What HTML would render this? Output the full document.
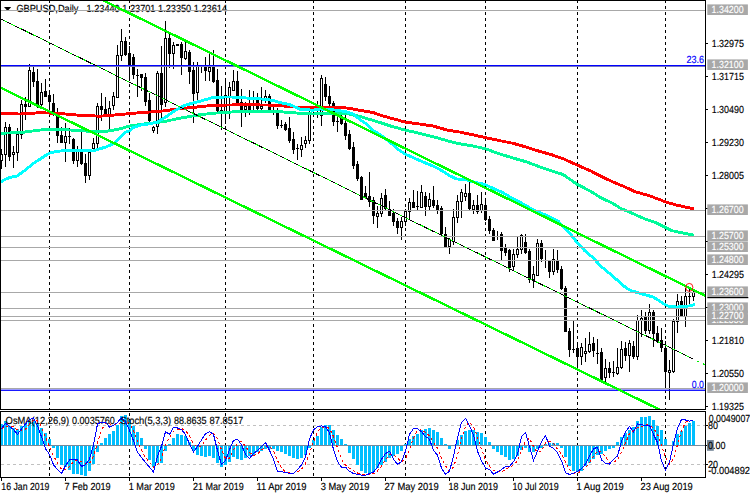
<!DOCTYPE html>
<html lang="en"><head><meta charset="utf-8"><title>GBPUSD Daily</title>
<style>html,body{margin:0;padding:0;background:#fff;overflow:hidden}svg{display:block;font-family:"Liberation Sans",sans-serif}text{white-space:pre;text-rendering:geometricPrecision}</style></head><body>
<svg width="750" height="498" viewBox="0 0 750 498">
<rect x="0" y="0" width="750" height="498" fill="#fff"/>
<defs><clipPath id="cm"><rect x="1" y="1" width="704" height="408"/></clipPath><clipPath id="ci"><rect x="1" y="412" width="704" height="65"/></clipPath></defs>
<g shape-rendering="crispEdges" fill="#000">
<rect x="49" y="0" width="1" height="3" fill="#000"/>
<rect x="49" y="6" width="1" height="3" fill="#000"/>
<rect x="49" y="12" width="1" height="3" fill="#000"/>
<rect x="49" y="18" width="1" height="3" fill="#000"/>
<rect x="49" y="24" width="1" height="3" fill="#000"/>
<rect x="49" y="30" width="1" height="3" fill="#000"/>
<rect x="49" y="36" width="1" height="3" fill="#000"/>
<rect x="49" y="42" width="1" height="3" fill="#000"/>
<rect x="49" y="48" width="1" height="3" fill="#000"/>
<rect x="49" y="54" width="1" height="3" fill="#000"/>
<rect x="49" y="60" width="1" height="3" fill="#000"/>
<rect x="49" y="66" width="1" height="3" fill="#000"/>
<rect x="49" y="72" width="1" height="3" fill="#000"/>
<rect x="49" y="78" width="1" height="3" fill="#000"/>
<rect x="49" y="84" width="1" height="3" fill="#000"/>
<rect x="49" y="90" width="1" height="3" fill="#000"/>
<rect x="49" y="96" width="1" height="3" fill="#000"/>
<rect x="49" y="102" width="1" height="3" fill="#000"/>
<rect x="49" y="108" width="1" height="3" fill="#000"/>
<rect x="49" y="114" width="1" height="3" fill="#000"/>
<rect x="49" y="120" width="1" height="3" fill="#000"/>
<rect x="49" y="126" width="1" height="3" fill="#000"/>
<rect x="49" y="132" width="1" height="3" fill="#000"/>
<rect x="49" y="138" width="1" height="3" fill="#000"/>
<rect x="49" y="144" width="1" height="3" fill="#000"/>
<rect x="49" y="150" width="1" height="3" fill="#000"/>
<rect x="49" y="156" width="1" height="3" fill="#000"/>
<rect x="49" y="162" width="1" height="3" fill="#000"/>
<rect x="49" y="168" width="1" height="3" fill="#000"/>
<rect x="49" y="174" width="1" height="3" fill="#000"/>
<rect x="49" y="180" width="1" height="3" fill="#000"/>
<rect x="49" y="186" width="1" height="3" fill="#000"/>
<rect x="49" y="192" width="1" height="3" fill="#000"/>
<rect x="49" y="198" width="1" height="3" fill="#000"/>
<rect x="49" y="204" width="1" height="3" fill="#000"/>
<rect x="49" y="210" width="1" height="3" fill="#000"/>
<rect x="49" y="216" width="1" height="3" fill="#000"/>
<rect x="49" y="222" width="1" height="3" fill="#000"/>
<rect x="49" y="228" width="1" height="3" fill="#000"/>
<rect x="49" y="234" width="1" height="3" fill="#000"/>
<rect x="49" y="240" width="1" height="3" fill="#000"/>
<rect x="49" y="246" width="1" height="3" fill="#000"/>
<rect x="49" y="252" width="1" height="3" fill="#000"/>
<rect x="49" y="258" width="1" height="3" fill="#000"/>
<rect x="49" y="264" width="1" height="3" fill="#000"/>
<rect x="49" y="270" width="1" height="3" fill="#000"/>
<rect x="49" y="276" width="1" height="3" fill="#000"/>
<rect x="49" y="282" width="1" height="3" fill="#000"/>
<rect x="49" y="288" width="1" height="3" fill="#000"/>
<rect x="49" y="294" width="1" height="3" fill="#000"/>
<rect x="49" y="300" width="1" height="3" fill="#000"/>
<rect x="49" y="306" width="1" height="3" fill="#000"/>
<rect x="49" y="312" width="1" height="3" fill="#000"/>
<rect x="49" y="318" width="1" height="3" fill="#000"/>
<rect x="49" y="324" width="1" height="3" fill="#000"/>
<rect x="49" y="330" width="1" height="3" fill="#000"/>
<rect x="49" y="336" width="1" height="3" fill="#000"/>
<rect x="49" y="342" width="1" height="3" fill="#000"/>
<rect x="49" y="348" width="1" height="3" fill="#000"/>
<rect x="49" y="354" width="1" height="3" fill="#000"/>
<rect x="49" y="360" width="1" height="3" fill="#000"/>
<rect x="49" y="366" width="1" height="3" fill="#000"/>
<rect x="49" y="372" width="1" height="3" fill="#000"/>
<rect x="49" y="378" width="1" height="3" fill="#000"/>
<rect x="49" y="384" width="1" height="3" fill="#000"/>
<rect x="49" y="390" width="1" height="3" fill="#000"/>
<rect x="49" y="396" width="1" height="3" fill="#000"/>
<rect x="49" y="402" width="1" height="3" fill="#000"/>
<rect x="49" y="408" width="1" height="1" fill="#000"/>
<rect x="49" y="413" width="1" height="3" fill="#000"/>
<rect x="49" y="419" width="1" height="3" fill="#000"/>
<rect x="49" y="425" width="1" height="3" fill="#000"/>
<rect x="49" y="431" width="1" height="3" fill="#000"/>
<rect x="49" y="437" width="1" height="3" fill="#000"/>
<rect x="49" y="443" width="1" height="3" fill="#000"/>
<rect x="49" y="449" width="1" height="3" fill="#000"/>
<rect x="49" y="455" width="1" height="3" fill="#000"/>
<rect x="49" y="461" width="1" height="3" fill="#000"/>
<rect x="49" y="467" width="1" height="3" fill="#000"/>
<rect x="49" y="473" width="1" height="3" fill="#000"/>
<rect x="129" y="0" width="1" height="3" fill="#000"/>
<rect x="129" y="6" width="1" height="3" fill="#000"/>
<rect x="129" y="12" width="1" height="3" fill="#000"/>
<rect x="129" y="18" width="1" height="3" fill="#000"/>
<rect x="129" y="24" width="1" height="3" fill="#000"/>
<rect x="129" y="30" width="1" height="3" fill="#000"/>
<rect x="129" y="36" width="1" height="3" fill="#000"/>
<rect x="129" y="42" width="1" height="3" fill="#000"/>
<rect x="129" y="48" width="1" height="3" fill="#000"/>
<rect x="129" y="54" width="1" height="3" fill="#000"/>
<rect x="129" y="60" width="1" height="3" fill="#000"/>
<rect x="129" y="66" width="1" height="3" fill="#000"/>
<rect x="129" y="72" width="1" height="3" fill="#000"/>
<rect x="129" y="78" width="1" height="3" fill="#000"/>
<rect x="129" y="84" width="1" height="3" fill="#000"/>
<rect x="129" y="90" width="1" height="3" fill="#000"/>
<rect x="129" y="96" width="1" height="3" fill="#000"/>
<rect x="129" y="102" width="1" height="3" fill="#000"/>
<rect x="129" y="108" width="1" height="3" fill="#000"/>
<rect x="129" y="114" width="1" height="3" fill="#000"/>
<rect x="129" y="120" width="1" height="3" fill="#000"/>
<rect x="129" y="126" width="1" height="3" fill="#000"/>
<rect x="129" y="132" width="1" height="3" fill="#000"/>
<rect x="129" y="138" width="1" height="3" fill="#000"/>
<rect x="129" y="144" width="1" height="3" fill="#000"/>
<rect x="129" y="150" width="1" height="3" fill="#000"/>
<rect x="129" y="156" width="1" height="3" fill="#000"/>
<rect x="129" y="162" width="1" height="3" fill="#000"/>
<rect x="129" y="168" width="1" height="3" fill="#000"/>
<rect x="129" y="174" width="1" height="3" fill="#000"/>
<rect x="129" y="180" width="1" height="3" fill="#000"/>
<rect x="129" y="186" width="1" height="3" fill="#000"/>
<rect x="129" y="192" width="1" height="3" fill="#000"/>
<rect x="129" y="198" width="1" height="3" fill="#000"/>
<rect x="129" y="204" width="1" height="3" fill="#000"/>
<rect x="129" y="210" width="1" height="3" fill="#000"/>
<rect x="129" y="216" width="1" height="3" fill="#000"/>
<rect x="129" y="222" width="1" height="3" fill="#000"/>
<rect x="129" y="228" width="1" height="3" fill="#000"/>
<rect x="129" y="234" width="1" height="3" fill="#000"/>
<rect x="129" y="240" width="1" height="3" fill="#000"/>
<rect x="129" y="246" width="1" height="3" fill="#000"/>
<rect x="129" y="252" width="1" height="3" fill="#000"/>
<rect x="129" y="258" width="1" height="3" fill="#000"/>
<rect x="129" y="264" width="1" height="3" fill="#000"/>
<rect x="129" y="270" width="1" height="3" fill="#000"/>
<rect x="129" y="276" width="1" height="3" fill="#000"/>
<rect x="129" y="282" width="1" height="3" fill="#000"/>
<rect x="129" y="288" width="1" height="3" fill="#000"/>
<rect x="129" y="294" width="1" height="3" fill="#000"/>
<rect x="129" y="300" width="1" height="3" fill="#000"/>
<rect x="129" y="306" width="1" height="3" fill="#000"/>
<rect x="129" y="312" width="1" height="3" fill="#000"/>
<rect x="129" y="318" width="1" height="3" fill="#000"/>
<rect x="129" y="324" width="1" height="3" fill="#000"/>
<rect x="129" y="330" width="1" height="3" fill="#000"/>
<rect x="129" y="336" width="1" height="3" fill="#000"/>
<rect x="129" y="342" width="1" height="3" fill="#000"/>
<rect x="129" y="348" width="1" height="3" fill="#000"/>
<rect x="129" y="354" width="1" height="3" fill="#000"/>
<rect x="129" y="360" width="1" height="3" fill="#000"/>
<rect x="129" y="366" width="1" height="3" fill="#000"/>
<rect x="129" y="372" width="1" height="3" fill="#000"/>
<rect x="129" y="378" width="1" height="3" fill="#000"/>
<rect x="129" y="384" width="1" height="3" fill="#000"/>
<rect x="129" y="390" width="1" height="3" fill="#000"/>
<rect x="129" y="396" width="1" height="3" fill="#000"/>
<rect x="129" y="402" width="1" height="3" fill="#000"/>
<rect x="129" y="408" width="1" height="1" fill="#000"/>
<rect x="129" y="413" width="1" height="3" fill="#000"/>
<rect x="129" y="419" width="1" height="3" fill="#000"/>
<rect x="129" y="425" width="1" height="3" fill="#000"/>
<rect x="129" y="431" width="1" height="3" fill="#000"/>
<rect x="129" y="437" width="1" height="3" fill="#000"/>
<rect x="129" y="443" width="1" height="3" fill="#000"/>
<rect x="129" y="449" width="1" height="3" fill="#000"/>
<rect x="129" y="455" width="1" height="3" fill="#000"/>
<rect x="129" y="461" width="1" height="3" fill="#000"/>
<rect x="129" y="467" width="1" height="3" fill="#000"/>
<rect x="129" y="473" width="1" height="3" fill="#000"/>
<rect x="225" y="0" width="1" height="3" fill="#000"/>
<rect x="225" y="6" width="1" height="3" fill="#000"/>
<rect x="225" y="12" width="1" height="3" fill="#000"/>
<rect x="225" y="18" width="1" height="3" fill="#000"/>
<rect x="225" y="24" width="1" height="3" fill="#000"/>
<rect x="225" y="30" width="1" height="3" fill="#000"/>
<rect x="225" y="36" width="1" height="3" fill="#000"/>
<rect x="225" y="42" width="1" height="3" fill="#000"/>
<rect x="225" y="48" width="1" height="3" fill="#000"/>
<rect x="225" y="54" width="1" height="3" fill="#000"/>
<rect x="225" y="60" width="1" height="3" fill="#000"/>
<rect x="225" y="66" width="1" height="3" fill="#000"/>
<rect x="225" y="72" width="1" height="3" fill="#000"/>
<rect x="225" y="78" width="1" height="3" fill="#000"/>
<rect x="225" y="84" width="1" height="3" fill="#000"/>
<rect x="225" y="90" width="1" height="3" fill="#000"/>
<rect x="225" y="96" width="1" height="3" fill="#000"/>
<rect x="225" y="102" width="1" height="3" fill="#000"/>
<rect x="225" y="108" width="1" height="3" fill="#000"/>
<rect x="225" y="114" width="1" height="3" fill="#000"/>
<rect x="225" y="120" width="1" height="3" fill="#000"/>
<rect x="225" y="126" width="1" height="3" fill="#000"/>
<rect x="225" y="132" width="1" height="3" fill="#000"/>
<rect x="225" y="138" width="1" height="3" fill="#000"/>
<rect x="225" y="144" width="1" height="3" fill="#000"/>
<rect x="225" y="150" width="1" height="3" fill="#000"/>
<rect x="225" y="156" width="1" height="3" fill="#000"/>
<rect x="225" y="162" width="1" height="3" fill="#000"/>
<rect x="225" y="168" width="1" height="3" fill="#000"/>
<rect x="225" y="174" width="1" height="3" fill="#000"/>
<rect x="225" y="180" width="1" height="3" fill="#000"/>
<rect x="225" y="186" width="1" height="3" fill="#000"/>
<rect x="225" y="192" width="1" height="3" fill="#000"/>
<rect x="225" y="198" width="1" height="3" fill="#000"/>
<rect x="225" y="204" width="1" height="3" fill="#000"/>
<rect x="225" y="210" width="1" height="3" fill="#000"/>
<rect x="225" y="216" width="1" height="3" fill="#000"/>
<rect x="225" y="222" width="1" height="3" fill="#000"/>
<rect x="225" y="228" width="1" height="3" fill="#000"/>
<rect x="225" y="234" width="1" height="3" fill="#000"/>
<rect x="225" y="240" width="1" height="3" fill="#000"/>
<rect x="225" y="246" width="1" height="3" fill="#000"/>
<rect x="225" y="252" width="1" height="3" fill="#000"/>
<rect x="225" y="258" width="1" height="3" fill="#000"/>
<rect x="225" y="264" width="1" height="3" fill="#000"/>
<rect x="225" y="270" width="1" height="3" fill="#000"/>
<rect x="225" y="276" width="1" height="3" fill="#000"/>
<rect x="225" y="282" width="1" height="3" fill="#000"/>
<rect x="225" y="288" width="1" height="3" fill="#000"/>
<rect x="225" y="294" width="1" height="3" fill="#000"/>
<rect x="225" y="300" width="1" height="3" fill="#000"/>
<rect x="225" y="306" width="1" height="3" fill="#000"/>
<rect x="225" y="312" width="1" height="3" fill="#000"/>
<rect x="225" y="318" width="1" height="3" fill="#000"/>
<rect x="225" y="324" width="1" height="3" fill="#000"/>
<rect x="225" y="330" width="1" height="3" fill="#000"/>
<rect x="225" y="336" width="1" height="3" fill="#000"/>
<rect x="225" y="342" width="1" height="3" fill="#000"/>
<rect x="225" y="348" width="1" height="3" fill="#000"/>
<rect x="225" y="354" width="1" height="3" fill="#000"/>
<rect x="225" y="360" width="1" height="3" fill="#000"/>
<rect x="225" y="366" width="1" height="3" fill="#000"/>
<rect x="225" y="372" width="1" height="3" fill="#000"/>
<rect x="225" y="378" width="1" height="3" fill="#000"/>
<rect x="225" y="384" width="1" height="3" fill="#000"/>
<rect x="225" y="390" width="1" height="3" fill="#000"/>
<rect x="225" y="396" width="1" height="3" fill="#000"/>
<rect x="225" y="402" width="1" height="3" fill="#000"/>
<rect x="225" y="408" width="1" height="1" fill="#000"/>
<rect x="225" y="413" width="1" height="3" fill="#000"/>
<rect x="225" y="419" width="1" height="3" fill="#000"/>
<rect x="225" y="425" width="1" height="3" fill="#000"/>
<rect x="225" y="431" width="1" height="3" fill="#000"/>
<rect x="225" y="437" width="1" height="3" fill="#000"/>
<rect x="225" y="443" width="1" height="3" fill="#000"/>
<rect x="225" y="449" width="1" height="3" fill="#000"/>
<rect x="225" y="455" width="1" height="3" fill="#000"/>
<rect x="225" y="461" width="1" height="3" fill="#000"/>
<rect x="225" y="467" width="1" height="3" fill="#000"/>
<rect x="225" y="473" width="1" height="3" fill="#000"/>
<rect x="313" y="0" width="1" height="3" fill="#000"/>
<rect x="313" y="6" width="1" height="3" fill="#000"/>
<rect x="313" y="12" width="1" height="3" fill="#000"/>
<rect x="313" y="18" width="1" height="3" fill="#000"/>
<rect x="313" y="24" width="1" height="3" fill="#000"/>
<rect x="313" y="30" width="1" height="3" fill="#000"/>
<rect x="313" y="36" width="1" height="3" fill="#000"/>
<rect x="313" y="42" width="1" height="3" fill="#000"/>
<rect x="313" y="48" width="1" height="3" fill="#000"/>
<rect x="313" y="54" width="1" height="3" fill="#000"/>
<rect x="313" y="60" width="1" height="3" fill="#000"/>
<rect x="313" y="66" width="1" height="3" fill="#000"/>
<rect x="313" y="72" width="1" height="3" fill="#000"/>
<rect x="313" y="78" width="1" height="3" fill="#000"/>
<rect x="313" y="84" width="1" height="3" fill="#000"/>
<rect x="313" y="90" width="1" height="3" fill="#000"/>
<rect x="313" y="96" width="1" height="3" fill="#000"/>
<rect x="313" y="102" width="1" height="3" fill="#000"/>
<rect x="313" y="108" width="1" height="3" fill="#000"/>
<rect x="313" y="114" width="1" height="3" fill="#000"/>
<rect x="313" y="120" width="1" height="3" fill="#000"/>
<rect x="313" y="126" width="1" height="3" fill="#000"/>
<rect x="313" y="132" width="1" height="3" fill="#000"/>
<rect x="313" y="138" width="1" height="3" fill="#000"/>
<rect x="313" y="144" width="1" height="3" fill="#000"/>
<rect x="313" y="150" width="1" height="3" fill="#000"/>
<rect x="313" y="156" width="1" height="3" fill="#000"/>
<rect x="313" y="162" width="1" height="3" fill="#000"/>
<rect x="313" y="168" width="1" height="3" fill="#000"/>
<rect x="313" y="174" width="1" height="3" fill="#000"/>
<rect x="313" y="180" width="1" height="3" fill="#000"/>
<rect x="313" y="186" width="1" height="3" fill="#000"/>
<rect x="313" y="192" width="1" height="3" fill="#000"/>
<rect x="313" y="198" width="1" height="3" fill="#000"/>
<rect x="313" y="204" width="1" height="3" fill="#000"/>
<rect x="313" y="210" width="1" height="3" fill="#000"/>
<rect x="313" y="216" width="1" height="3" fill="#000"/>
<rect x="313" y="222" width="1" height="3" fill="#000"/>
<rect x="313" y="228" width="1" height="3" fill="#000"/>
<rect x="313" y="234" width="1" height="3" fill="#000"/>
<rect x="313" y="240" width="1" height="3" fill="#000"/>
<rect x="313" y="246" width="1" height="3" fill="#000"/>
<rect x="313" y="252" width="1" height="3" fill="#000"/>
<rect x="313" y="258" width="1" height="3" fill="#000"/>
<rect x="313" y="264" width="1" height="3" fill="#000"/>
<rect x="313" y="270" width="1" height="3" fill="#000"/>
<rect x="313" y="276" width="1" height="3" fill="#000"/>
<rect x="313" y="282" width="1" height="3" fill="#000"/>
<rect x="313" y="288" width="1" height="3" fill="#000"/>
<rect x="313" y="294" width="1" height="3" fill="#000"/>
<rect x="313" y="300" width="1" height="3" fill="#000"/>
<rect x="313" y="306" width="1" height="3" fill="#000"/>
<rect x="313" y="312" width="1" height="3" fill="#000"/>
<rect x="313" y="318" width="1" height="3" fill="#000"/>
<rect x="313" y="324" width="1" height="3" fill="#000"/>
<rect x="313" y="330" width="1" height="3" fill="#000"/>
<rect x="313" y="336" width="1" height="3" fill="#000"/>
<rect x="313" y="342" width="1" height="3" fill="#000"/>
<rect x="313" y="348" width="1" height="3" fill="#000"/>
<rect x="313" y="354" width="1" height="3" fill="#000"/>
<rect x="313" y="360" width="1" height="3" fill="#000"/>
<rect x="313" y="366" width="1" height="3" fill="#000"/>
<rect x="313" y="372" width="1" height="3" fill="#000"/>
<rect x="313" y="378" width="1" height="3" fill="#000"/>
<rect x="313" y="384" width="1" height="3" fill="#000"/>
<rect x="313" y="390" width="1" height="3" fill="#000"/>
<rect x="313" y="396" width="1" height="3" fill="#000"/>
<rect x="313" y="402" width="1" height="3" fill="#000"/>
<rect x="313" y="408" width="1" height="1" fill="#000"/>
<rect x="313" y="413" width="1" height="3" fill="#000"/>
<rect x="313" y="419" width="1" height="3" fill="#000"/>
<rect x="313" y="425" width="1" height="3" fill="#000"/>
<rect x="313" y="431" width="1" height="3" fill="#000"/>
<rect x="313" y="437" width="1" height="3" fill="#000"/>
<rect x="313" y="443" width="1" height="3" fill="#000"/>
<rect x="313" y="449" width="1" height="3" fill="#000"/>
<rect x="313" y="455" width="1" height="3" fill="#000"/>
<rect x="313" y="461" width="1" height="3" fill="#000"/>
<rect x="313" y="467" width="1" height="3" fill="#000"/>
<rect x="313" y="473" width="1" height="3" fill="#000"/>
<rect x="405" y="0" width="1" height="3" fill="#000"/>
<rect x="405" y="6" width="1" height="3" fill="#000"/>
<rect x="405" y="12" width="1" height="3" fill="#000"/>
<rect x="405" y="18" width="1" height="3" fill="#000"/>
<rect x="405" y="24" width="1" height="3" fill="#000"/>
<rect x="405" y="30" width="1" height="3" fill="#000"/>
<rect x="405" y="36" width="1" height="3" fill="#000"/>
<rect x="405" y="42" width="1" height="3" fill="#000"/>
<rect x="405" y="48" width="1" height="3" fill="#000"/>
<rect x="405" y="54" width="1" height="3" fill="#000"/>
<rect x="405" y="60" width="1" height="3" fill="#000"/>
<rect x="405" y="66" width="1" height="3" fill="#000"/>
<rect x="405" y="72" width="1" height="3" fill="#000"/>
<rect x="405" y="78" width="1" height="3" fill="#000"/>
<rect x="405" y="84" width="1" height="3" fill="#000"/>
<rect x="405" y="90" width="1" height="3" fill="#000"/>
<rect x="405" y="96" width="1" height="3" fill="#000"/>
<rect x="405" y="102" width="1" height="3" fill="#000"/>
<rect x="405" y="108" width="1" height="3" fill="#000"/>
<rect x="405" y="114" width="1" height="3" fill="#000"/>
<rect x="405" y="120" width="1" height="3" fill="#000"/>
<rect x="405" y="126" width="1" height="3" fill="#000"/>
<rect x="405" y="132" width="1" height="3" fill="#000"/>
<rect x="405" y="138" width="1" height="3" fill="#000"/>
<rect x="405" y="144" width="1" height="3" fill="#000"/>
<rect x="405" y="150" width="1" height="3" fill="#000"/>
<rect x="405" y="156" width="1" height="3" fill="#000"/>
<rect x="405" y="162" width="1" height="3" fill="#000"/>
<rect x="405" y="168" width="1" height="3" fill="#000"/>
<rect x="405" y="174" width="1" height="3" fill="#000"/>
<rect x="405" y="180" width="1" height="3" fill="#000"/>
<rect x="405" y="186" width="1" height="3" fill="#000"/>
<rect x="405" y="192" width="1" height="3" fill="#000"/>
<rect x="405" y="198" width="1" height="3" fill="#000"/>
<rect x="405" y="204" width="1" height="3" fill="#000"/>
<rect x="405" y="210" width="1" height="3" fill="#000"/>
<rect x="405" y="216" width="1" height="3" fill="#000"/>
<rect x="405" y="222" width="1" height="3" fill="#000"/>
<rect x="405" y="228" width="1" height="3" fill="#000"/>
<rect x="405" y="234" width="1" height="3" fill="#000"/>
<rect x="405" y="240" width="1" height="3" fill="#000"/>
<rect x="405" y="246" width="1" height="3" fill="#000"/>
<rect x="405" y="252" width="1" height="3" fill="#000"/>
<rect x="405" y="258" width="1" height="3" fill="#000"/>
<rect x="405" y="264" width="1" height="3" fill="#000"/>
<rect x="405" y="270" width="1" height="3" fill="#000"/>
<rect x="405" y="276" width="1" height="3" fill="#000"/>
<rect x="405" y="282" width="1" height="3" fill="#000"/>
<rect x="405" y="288" width="1" height="3" fill="#000"/>
<rect x="405" y="294" width="1" height="3" fill="#000"/>
<rect x="405" y="300" width="1" height="3" fill="#000"/>
<rect x="405" y="306" width="1" height="3" fill="#000"/>
<rect x="405" y="312" width="1" height="3" fill="#000"/>
<rect x="405" y="318" width="1" height="3" fill="#000"/>
<rect x="405" y="324" width="1" height="3" fill="#000"/>
<rect x="405" y="330" width="1" height="3" fill="#000"/>
<rect x="405" y="336" width="1" height="3" fill="#000"/>
<rect x="405" y="342" width="1" height="3" fill="#000"/>
<rect x="405" y="348" width="1" height="3" fill="#000"/>
<rect x="405" y="354" width="1" height="3" fill="#000"/>
<rect x="405" y="360" width="1" height="3" fill="#000"/>
<rect x="405" y="366" width="1" height="3" fill="#000"/>
<rect x="405" y="372" width="1" height="3" fill="#000"/>
<rect x="405" y="378" width="1" height="3" fill="#000"/>
<rect x="405" y="384" width="1" height="3" fill="#000"/>
<rect x="405" y="390" width="1" height="3" fill="#000"/>
<rect x="405" y="396" width="1" height="3" fill="#000"/>
<rect x="405" y="402" width="1" height="3" fill="#000"/>
<rect x="405" y="408" width="1" height="1" fill="#000"/>
<rect x="405" y="413" width="1" height="3" fill="#000"/>
<rect x="405" y="419" width="1" height="3" fill="#000"/>
<rect x="405" y="425" width="1" height="3" fill="#000"/>
<rect x="405" y="431" width="1" height="3" fill="#000"/>
<rect x="405" y="437" width="1" height="3" fill="#000"/>
<rect x="405" y="443" width="1" height="3" fill="#000"/>
<rect x="405" y="449" width="1" height="3" fill="#000"/>
<rect x="405" y="455" width="1" height="3" fill="#000"/>
<rect x="405" y="461" width="1" height="3" fill="#000"/>
<rect x="405" y="467" width="1" height="3" fill="#000"/>
<rect x="405" y="473" width="1" height="3" fill="#000"/>
<rect x="485" y="0" width="1" height="3" fill="#000"/>
<rect x="485" y="6" width="1" height="3" fill="#000"/>
<rect x="485" y="12" width="1" height="3" fill="#000"/>
<rect x="485" y="18" width="1" height="3" fill="#000"/>
<rect x="485" y="24" width="1" height="3" fill="#000"/>
<rect x="485" y="30" width="1" height="3" fill="#000"/>
<rect x="485" y="36" width="1" height="3" fill="#000"/>
<rect x="485" y="42" width="1" height="3" fill="#000"/>
<rect x="485" y="48" width="1" height="3" fill="#000"/>
<rect x="485" y="54" width="1" height="3" fill="#000"/>
<rect x="485" y="60" width="1" height="3" fill="#000"/>
<rect x="485" y="66" width="1" height="3" fill="#000"/>
<rect x="485" y="72" width="1" height="3" fill="#000"/>
<rect x="485" y="78" width="1" height="3" fill="#000"/>
<rect x="485" y="84" width="1" height="3" fill="#000"/>
<rect x="485" y="90" width="1" height="3" fill="#000"/>
<rect x="485" y="96" width="1" height="3" fill="#000"/>
<rect x="485" y="102" width="1" height="3" fill="#000"/>
<rect x="485" y="108" width="1" height="3" fill="#000"/>
<rect x="485" y="114" width="1" height="3" fill="#000"/>
<rect x="485" y="120" width="1" height="3" fill="#000"/>
<rect x="485" y="126" width="1" height="3" fill="#000"/>
<rect x="485" y="132" width="1" height="3" fill="#000"/>
<rect x="485" y="138" width="1" height="3" fill="#000"/>
<rect x="485" y="144" width="1" height="3" fill="#000"/>
<rect x="485" y="150" width="1" height="3" fill="#000"/>
<rect x="485" y="156" width="1" height="3" fill="#000"/>
<rect x="485" y="162" width="1" height="3" fill="#000"/>
<rect x="485" y="168" width="1" height="3" fill="#000"/>
<rect x="485" y="174" width="1" height="3" fill="#000"/>
<rect x="485" y="180" width="1" height="3" fill="#000"/>
<rect x="485" y="186" width="1" height="3" fill="#000"/>
<rect x="485" y="192" width="1" height="3" fill="#000"/>
<rect x="485" y="198" width="1" height="3" fill="#000"/>
<rect x="485" y="204" width="1" height="3" fill="#000"/>
<rect x="485" y="210" width="1" height="3" fill="#000"/>
<rect x="485" y="216" width="1" height="3" fill="#000"/>
<rect x="485" y="222" width="1" height="3" fill="#000"/>
<rect x="485" y="228" width="1" height="3" fill="#000"/>
<rect x="485" y="234" width="1" height="3" fill="#000"/>
<rect x="485" y="240" width="1" height="3" fill="#000"/>
<rect x="485" y="246" width="1" height="3" fill="#000"/>
<rect x="485" y="252" width="1" height="3" fill="#000"/>
<rect x="485" y="258" width="1" height="3" fill="#000"/>
<rect x="485" y="264" width="1" height="3" fill="#000"/>
<rect x="485" y="270" width="1" height="3" fill="#000"/>
<rect x="485" y="276" width="1" height="3" fill="#000"/>
<rect x="485" y="282" width="1" height="3" fill="#000"/>
<rect x="485" y="288" width="1" height="3" fill="#000"/>
<rect x="485" y="294" width="1" height="3" fill="#000"/>
<rect x="485" y="300" width="1" height="3" fill="#000"/>
<rect x="485" y="306" width="1" height="3" fill="#000"/>
<rect x="485" y="312" width="1" height="3" fill="#000"/>
<rect x="485" y="318" width="1" height="3" fill="#000"/>
<rect x="485" y="324" width="1" height="3" fill="#000"/>
<rect x="485" y="330" width="1" height="3" fill="#000"/>
<rect x="485" y="336" width="1" height="3" fill="#000"/>
<rect x="485" y="342" width="1" height="3" fill="#000"/>
<rect x="485" y="348" width="1" height="3" fill="#000"/>
<rect x="485" y="354" width="1" height="3" fill="#000"/>
<rect x="485" y="360" width="1" height="3" fill="#000"/>
<rect x="485" y="366" width="1" height="3" fill="#000"/>
<rect x="485" y="372" width="1" height="3" fill="#000"/>
<rect x="485" y="378" width="1" height="3" fill="#000"/>
<rect x="485" y="384" width="1" height="3" fill="#000"/>
<rect x="485" y="390" width="1" height="3" fill="#000"/>
<rect x="485" y="396" width="1" height="3" fill="#000"/>
<rect x="485" y="402" width="1" height="3" fill="#000"/>
<rect x="485" y="408" width="1" height="1" fill="#000"/>
<rect x="485" y="413" width="1" height="3" fill="#000"/>
<rect x="485" y="419" width="1" height="3" fill="#000"/>
<rect x="485" y="425" width="1" height="3" fill="#000"/>
<rect x="485" y="431" width="1" height="3" fill="#000"/>
<rect x="485" y="437" width="1" height="3" fill="#000"/>
<rect x="485" y="443" width="1" height="3" fill="#000"/>
<rect x="485" y="449" width="1" height="3" fill="#000"/>
<rect x="485" y="455" width="1" height="3" fill="#000"/>
<rect x="485" y="461" width="1" height="3" fill="#000"/>
<rect x="485" y="467" width="1" height="3" fill="#000"/>
<rect x="485" y="473" width="1" height="3" fill="#000"/>
<rect x="577" y="0" width="1" height="3" fill="#000"/>
<rect x="577" y="6" width="1" height="3" fill="#000"/>
<rect x="577" y="12" width="1" height="3" fill="#000"/>
<rect x="577" y="18" width="1" height="3" fill="#000"/>
<rect x="577" y="24" width="1" height="3" fill="#000"/>
<rect x="577" y="30" width="1" height="3" fill="#000"/>
<rect x="577" y="36" width="1" height="3" fill="#000"/>
<rect x="577" y="42" width="1" height="3" fill="#000"/>
<rect x="577" y="48" width="1" height="3" fill="#000"/>
<rect x="577" y="54" width="1" height="3" fill="#000"/>
<rect x="577" y="60" width="1" height="3" fill="#000"/>
<rect x="577" y="66" width="1" height="3" fill="#000"/>
<rect x="577" y="72" width="1" height="3" fill="#000"/>
<rect x="577" y="78" width="1" height="3" fill="#000"/>
<rect x="577" y="84" width="1" height="3" fill="#000"/>
<rect x="577" y="90" width="1" height="3" fill="#000"/>
<rect x="577" y="96" width="1" height="3" fill="#000"/>
<rect x="577" y="102" width="1" height="3" fill="#000"/>
<rect x="577" y="108" width="1" height="3" fill="#000"/>
<rect x="577" y="114" width="1" height="3" fill="#000"/>
<rect x="577" y="120" width="1" height="3" fill="#000"/>
<rect x="577" y="126" width="1" height="3" fill="#000"/>
<rect x="577" y="132" width="1" height="3" fill="#000"/>
<rect x="577" y="138" width="1" height="3" fill="#000"/>
<rect x="577" y="144" width="1" height="3" fill="#000"/>
<rect x="577" y="150" width="1" height="3" fill="#000"/>
<rect x="577" y="156" width="1" height="3" fill="#000"/>
<rect x="577" y="162" width="1" height="3" fill="#000"/>
<rect x="577" y="168" width="1" height="3" fill="#000"/>
<rect x="577" y="174" width="1" height="3" fill="#000"/>
<rect x="577" y="180" width="1" height="3" fill="#000"/>
<rect x="577" y="186" width="1" height="3" fill="#000"/>
<rect x="577" y="192" width="1" height="3" fill="#000"/>
<rect x="577" y="198" width="1" height="3" fill="#000"/>
<rect x="577" y="204" width="1" height="3" fill="#000"/>
<rect x="577" y="210" width="1" height="3" fill="#000"/>
<rect x="577" y="216" width="1" height="3" fill="#000"/>
<rect x="577" y="222" width="1" height="3" fill="#000"/>
<rect x="577" y="228" width="1" height="3" fill="#000"/>
<rect x="577" y="234" width="1" height="3" fill="#000"/>
<rect x="577" y="240" width="1" height="3" fill="#000"/>
<rect x="577" y="246" width="1" height="3" fill="#000"/>
<rect x="577" y="252" width="1" height="3" fill="#000"/>
<rect x="577" y="258" width="1" height="3" fill="#000"/>
<rect x="577" y="264" width="1" height="3" fill="#000"/>
<rect x="577" y="270" width="1" height="3" fill="#000"/>
<rect x="577" y="276" width="1" height="3" fill="#000"/>
<rect x="577" y="282" width="1" height="3" fill="#000"/>
<rect x="577" y="288" width="1" height="3" fill="#000"/>
<rect x="577" y="294" width="1" height="3" fill="#000"/>
<rect x="577" y="300" width="1" height="3" fill="#000"/>
<rect x="577" y="306" width="1" height="3" fill="#000"/>
<rect x="577" y="312" width="1" height="3" fill="#000"/>
<rect x="577" y="318" width="1" height="3" fill="#000"/>
<rect x="577" y="324" width="1" height="3" fill="#000"/>
<rect x="577" y="330" width="1" height="3" fill="#000"/>
<rect x="577" y="336" width="1" height="3" fill="#000"/>
<rect x="577" y="342" width="1" height="3" fill="#000"/>
<rect x="577" y="348" width="1" height="3" fill="#000"/>
<rect x="577" y="354" width="1" height="3" fill="#000"/>
<rect x="577" y="360" width="1" height="3" fill="#000"/>
<rect x="577" y="366" width="1" height="3" fill="#000"/>
<rect x="577" y="372" width="1" height="3" fill="#000"/>
<rect x="577" y="378" width="1" height="3" fill="#000"/>
<rect x="577" y="384" width="1" height="3" fill="#000"/>
<rect x="577" y="390" width="1" height="3" fill="#000"/>
<rect x="577" y="396" width="1" height="3" fill="#000"/>
<rect x="577" y="402" width="1" height="3" fill="#000"/>
<rect x="577" y="408" width="1" height="1" fill="#000"/>
<rect x="577" y="413" width="1" height="3" fill="#000"/>
<rect x="577" y="419" width="1" height="3" fill="#000"/>
<rect x="577" y="425" width="1" height="3" fill="#000"/>
<rect x="577" y="431" width="1" height="3" fill="#000"/>
<rect x="577" y="437" width="1" height="3" fill="#000"/>
<rect x="577" y="443" width="1" height="3" fill="#000"/>
<rect x="577" y="449" width="1" height="3" fill="#000"/>
<rect x="577" y="455" width="1" height="3" fill="#000"/>
<rect x="577" y="461" width="1" height="3" fill="#000"/>
<rect x="577" y="467" width="1" height="3" fill="#000"/>
<rect x="577" y="473" width="1" height="3" fill="#000"/>
<rect x="665" y="0" width="1" height="3" fill="#000"/>
<rect x="665" y="6" width="1" height="3" fill="#000"/>
<rect x="665" y="12" width="1" height="3" fill="#000"/>
<rect x="665" y="18" width="1" height="3" fill="#000"/>
<rect x="665" y="24" width="1" height="3" fill="#000"/>
<rect x="665" y="30" width="1" height="3" fill="#000"/>
<rect x="665" y="36" width="1" height="3" fill="#000"/>
<rect x="665" y="42" width="1" height="3" fill="#000"/>
<rect x="665" y="48" width="1" height="3" fill="#000"/>
<rect x="665" y="54" width="1" height="3" fill="#000"/>
<rect x="665" y="60" width="1" height="3" fill="#000"/>
<rect x="665" y="66" width="1" height="3" fill="#000"/>
<rect x="665" y="72" width="1" height="3" fill="#000"/>
<rect x="665" y="78" width="1" height="3" fill="#000"/>
<rect x="665" y="84" width="1" height="3" fill="#000"/>
<rect x="665" y="90" width="1" height="3" fill="#000"/>
<rect x="665" y="96" width="1" height="3" fill="#000"/>
<rect x="665" y="102" width="1" height="3" fill="#000"/>
<rect x="665" y="108" width="1" height="3" fill="#000"/>
<rect x="665" y="114" width="1" height="3" fill="#000"/>
<rect x="665" y="120" width="1" height="3" fill="#000"/>
<rect x="665" y="126" width="1" height="3" fill="#000"/>
<rect x="665" y="132" width="1" height="3" fill="#000"/>
<rect x="665" y="138" width="1" height="3" fill="#000"/>
<rect x="665" y="144" width="1" height="3" fill="#000"/>
<rect x="665" y="150" width="1" height="3" fill="#000"/>
<rect x="665" y="156" width="1" height="3" fill="#000"/>
<rect x="665" y="162" width="1" height="3" fill="#000"/>
<rect x="665" y="168" width="1" height="3" fill="#000"/>
<rect x="665" y="174" width="1" height="3" fill="#000"/>
<rect x="665" y="180" width="1" height="3" fill="#000"/>
<rect x="665" y="186" width="1" height="3" fill="#000"/>
<rect x="665" y="192" width="1" height="3" fill="#000"/>
<rect x="665" y="198" width="1" height="3" fill="#000"/>
<rect x="665" y="204" width="1" height="3" fill="#000"/>
<rect x="665" y="210" width="1" height="3" fill="#000"/>
<rect x="665" y="216" width="1" height="3" fill="#000"/>
<rect x="665" y="222" width="1" height="3" fill="#000"/>
<rect x="665" y="228" width="1" height="3" fill="#000"/>
<rect x="665" y="234" width="1" height="3" fill="#000"/>
<rect x="665" y="240" width="1" height="3" fill="#000"/>
<rect x="665" y="246" width="1" height="3" fill="#000"/>
<rect x="665" y="252" width="1" height="3" fill="#000"/>
<rect x="665" y="258" width="1" height="3" fill="#000"/>
<rect x="665" y="264" width="1" height="3" fill="#000"/>
<rect x="665" y="270" width="1" height="3" fill="#000"/>
<rect x="665" y="276" width="1" height="3" fill="#000"/>
<rect x="665" y="282" width="1" height="3" fill="#000"/>
<rect x="665" y="288" width="1" height="3" fill="#000"/>
<rect x="665" y="294" width="1" height="3" fill="#000"/>
<rect x="665" y="300" width="1" height="3" fill="#000"/>
<rect x="665" y="306" width="1" height="3" fill="#000"/>
<rect x="665" y="312" width="1" height="3" fill="#000"/>
<rect x="665" y="318" width="1" height="3" fill="#000"/>
<rect x="665" y="324" width="1" height="3" fill="#000"/>
<rect x="665" y="330" width="1" height="3" fill="#000"/>
<rect x="665" y="336" width="1" height="3" fill="#000"/>
<rect x="665" y="342" width="1" height="3" fill="#000"/>
<rect x="665" y="348" width="1" height="3" fill="#000"/>
<rect x="665" y="354" width="1" height="3" fill="#000"/>
<rect x="665" y="360" width="1" height="3" fill="#000"/>
<rect x="665" y="366" width="1" height="3" fill="#000"/>
<rect x="665" y="372" width="1" height="3" fill="#000"/>
<rect x="665" y="378" width="1" height="3" fill="#000"/>
<rect x="665" y="384" width="1" height="3" fill="#000"/>
<rect x="665" y="390" width="1" height="3" fill="#000"/>
<rect x="665" y="396" width="1" height="3" fill="#000"/>
<rect x="665" y="402" width="1" height="3" fill="#000"/>
<rect x="665" y="408" width="1" height="1" fill="#000"/>
<rect x="665" y="413" width="1" height="3" fill="#000"/>
<rect x="665" y="419" width="1" height="3" fill="#000"/>
<rect x="665" y="425" width="1" height="3" fill="#000"/>
<rect x="665" y="431" width="1" height="3" fill="#000"/>
<rect x="665" y="437" width="1" height="3" fill="#000"/>
<rect x="665" y="443" width="1" height="3" fill="#000"/>
<rect x="665" y="449" width="1" height="3" fill="#000"/>
<rect x="665" y="455" width="1" height="3" fill="#000"/>
<rect x="665" y="461" width="1" height="3" fill="#000"/>
<rect x="665" y="467" width="1" height="3" fill="#000"/>
<rect x="665" y="473" width="1" height="3" fill="#000"/>
</g>
<g shape-rendering="crispEdges" clip-path="url(#cm)">
<rect x="1" y="149" width="1" height="20" fill="#000"/>
<rect x="0" y="154" width="3" height="7" fill="#000"/>
<rect x="1" y="155" width="1" height="5" fill="#fff"/>
<rect x="5" y="122" width="1" height="45" fill="#000"/>
<rect x="4" y="127" width="3" height="28" fill="#000"/>
<rect x="5" y="128" width="1" height="26" fill="#fff"/>
<rect x="9" y="124" width="1" height="37" fill="#000"/>
<rect x="8" y="127" width="3" height="30" fill="#000"/>
<rect x="13" y="146" width="1" height="22" fill="#000"/>
<rect x="12" y="152" width="3" height="3" fill="#000"/>
<rect x="13" y="153" width="1" height="1" fill="#fff"/>
<rect x="17" y="128" width="1" height="33" fill="#000"/>
<rect x="16" y="134" width="3" height="19" fill="#000"/>
<rect x="17" y="135" width="1" height="17" fill="#fff"/>
<rect x="21" y="100" width="1" height="39" fill="#000"/>
<rect x="20" y="104" width="3" height="31" fill="#000"/>
<rect x="21" y="105" width="1" height="29" fill="#fff"/>
<rect x="25" y="97" width="1" height="23" fill="#000"/>
<rect x="24" y="104" width="3" height="3" fill="#000"/>
<rect x="29" y="64" width="1" height="43" fill="#000"/>
<rect x="28" y="70" width="3" height="37" fill="#000"/>
<rect x="29" y="71" width="1" height="35" fill="#fff"/>
<rect x="33" y="67" width="1" height="20" fill="#000"/>
<rect x="32" y="72" width="3" height="10" fill="#000"/>
<rect x="37" y="69" width="1" height="39" fill="#000"/>
<rect x="36" y="81" width="3" height="24" fill="#000"/>
<rect x="41" y="83" width="1" height="23" fill="#000"/>
<rect x="40" y="92" width="3" height="13" fill="#000"/>
<rect x="41" y="93" width="1" height="11" fill="#fff"/>
<rect x="45" y="79" width="1" height="18" fill="#000"/>
<rect x="44" y="91" width="3" height="6" fill="#000"/>
<rect x="49" y="90" width="1" height="23" fill="#000"/>
<rect x="48" y="95" width="3" height="7" fill="#000"/>
<rect x="53" y="94" width="1" height="22" fill="#000"/>
<rect x="52" y="103" width="3" height="9" fill="#000"/>
<rect x="57" y="108" width="1" height="35" fill="#000"/>
<rect x="56" y="115" width="3" height="21" fill="#000"/>
<rect x="61" y="127" width="1" height="16" fill="#000"/>
<rect x="60" y="135" width="3" height="8" fill="#000"/>
<rect x="65" y="123" width="1" height="39" fill="#000"/>
<rect x="64" y="136" width="3" height="7" fill="#000"/>
<rect x="65" y="137" width="1" height="5" fill="#fff"/>
<rect x="69" y="128" width="1" height="16" fill="#000"/>
<rect x="68" y="136" width="3" height="1" fill="#000"/>
<rect x="73" y="138" width="1" height="26" fill="#000"/>
<rect x="72" y="139" width="3" height="22" fill="#000"/>
<rect x="77" y="146" width="1" height="21" fill="#000"/>
<rect x="76" y="150" width="3" height="11" fill="#000"/>
<rect x="77" y="151" width="1" height="9" fill="#fff"/>
<rect x="81" y="132" width="1" height="33" fill="#000"/>
<rect x="80" y="152" width="3" height="12" fill="#000"/>
<rect x="85" y="154" width="1" height="29" fill="#000"/>
<rect x="84" y="163" width="3" height="13" fill="#000"/>
<rect x="89" y="149" width="1" height="31" fill="#000"/>
<rect x="88" y="152" width="3" height="24" fill="#000"/>
<rect x="89" y="153" width="1" height="22" fill="#fff"/>
<rect x="93" y="138" width="1" height="13" fill="#000"/>
<rect x="92" y="143" width="3" height="6" fill="#000"/>
<rect x="93" y="144" width="1" height="4" fill="#fff"/>
<rect x="97" y="103" width="1" height="45" fill="#000"/>
<rect x="96" y="106" width="3" height="38" fill="#000"/>
<rect x="97" y="107" width="1" height="36" fill="#fff"/>
<rect x="101" y="93" width="1" height="28" fill="#000"/>
<rect x="100" y="106" width="3" height="4" fill="#000"/>
<rect x="105" y="97" width="1" height="19" fill="#000"/>
<rect x="104" y="109" width="3" height="6" fill="#000"/>
<rect x="109" y="101" width="1" height="30" fill="#000"/>
<rect x="108" y="108" width="3" height="7" fill="#000"/>
<rect x="109" y="109" width="1" height="5" fill="#fff"/>
<rect x="113" y="92" width="1" height="18" fill="#000"/>
<rect x="112" y="96" width="3" height="10" fill="#000"/>
<rect x="113" y="97" width="1" height="8" fill="#fff"/>
<rect x="117" y="45" width="1" height="53" fill="#000"/>
<rect x="116" y="55" width="3" height="43" fill="#000"/>
<rect x="117" y="56" width="1" height="41" fill="#fff"/>
<rect x="121" y="29" width="1" height="32" fill="#000"/>
<rect x="120" y="41" width="3" height="15" fill="#000"/>
<rect x="121" y="42" width="1" height="13" fill="#fff"/>
<rect x="125" y="37" width="1" height="19" fill="#000"/>
<rect x="124" y="41" width="3" height="14" fill="#000"/>
<rect x="129" y="46" width="1" height="33" fill="#000"/>
<rect x="128" y="53" width="3" height="13" fill="#000"/>
<rect x="133" y="54" width="1" height="25" fill="#000"/>
<rect x="132" y="57" width="3" height="18" fill="#000"/>
<rect x="137" y="69" width="1" height="28" fill="#000"/>
<rect x="136" y="75" width="3" height="1" fill="#000"/>
<rect x="141" y="74" width="1" height="17" fill="#000"/>
<rect x="140" y="74" width="3" height="4" fill="#000"/>
<rect x="145" y="73" width="1" height="33" fill="#000"/>
<rect x="144" y="77" width="3" height="25" fill="#000"/>
<rect x="149" y="93" width="1" height="30" fill="#000"/>
<rect x="148" y="100" width="3" height="21" fill="#000"/>
<rect x="153" y="126" width="1" height="7" fill="#000"/>
<rect x="152" y="127" width="3" height="4" fill="#000"/>
<rect x="153" y="128" width="1" height="2" fill="#fff"/>
<rect x="157" y="71" width="1" height="63" fill="#000"/>
<rect x="156" y="73" width="3" height="54" fill="#000"/>
<rect x="157" y="74" width="1" height="52" fill="#fff"/>
<rect x="161" y="46" width="1" height="75" fill="#000"/>
<rect x="160" y="73" width="3" height="32" fill="#000"/>
<rect x="165" y="21" width="1" height="86" fill="#000"/>
<rect x="164" y="38" width="3" height="65" fill="#000"/>
<rect x="165" y="39" width="1" height="63" fill="#fff"/>
<rect x="169" y="33" width="1" height="35" fill="#000"/>
<rect x="168" y="38" width="3" height="16" fill="#000"/>
<rect x="173" y="42" width="1" height="27" fill="#000"/>
<rect x="172" y="45" width="3" height="9" fill="#000"/>
<rect x="173" y="46" width="1" height="7" fill="#fff"/>
<rect x="177" y="44" width="1" height="2" fill="#000"/>
<rect x="176" y="44" width="3" height="2" fill="#000"/>
<rect x="181" y="42" width="1" height="33" fill="#000"/>
<rect x="180" y="44" width="3" height="14" fill="#000"/>
<rect x="185" y="42" width="1" height="18" fill="#000"/>
<rect x="184" y="51" width="3" height="8" fill="#000"/>
<rect x="185" y="52" width="1" height="6" fill="#fff"/>
<rect x="189" y="50" width="1" height="34" fill="#000"/>
<rect x="188" y="52" width="3" height="20" fill="#000"/>
<rect x="193" y="62" width="1" height="61" fill="#000"/>
<rect x="192" y="70" width="3" height="24" fill="#000"/>
<rect x="197" y="62" width="1" height="39" fill="#000"/>
<rect x="196" y="66" width="3" height="27" fill="#000"/>
<rect x="197" y="67" width="1" height="25" fill="#fff"/>
<rect x="201" y="66" width="1" height="7" fill="#000"/>
<rect x="205" y="57" width="1" height="24" fill="#000"/>
<rect x="204" y="66" width="3" height="5" fill="#000"/>
<rect x="209" y="54" width="1" height="27" fill="#000"/>
<rect x="208" y="67" width="3" height="5" fill="#000"/>
<rect x="209" y="68" width="1" height="3" fill="#fff"/>
<rect x="213" y="50" width="1" height="33" fill="#000"/>
<rect x="212" y="66" width="3" height="16" fill="#000"/>
<rect x="217" y="69" width="1" height="44" fill="#000"/>
<rect x="216" y="80" width="3" height="31" fill="#000"/>
<rect x="221" y="86" width="1" height="44" fill="#000"/>
<rect x="220" y="110" width="3" height="3" fill="#000"/>
<rect x="225" y="78" width="1" height="46" fill="#000"/>
<rect x="224" y="95" width="3" height="18" fill="#000"/>
<rect x="225" y="96" width="1" height="16" fill="#fff"/>
<rect x="229" y="82" width="1" height="37" fill="#000"/>
<rect x="228" y="87" width="3" height="10" fill="#000"/>
<rect x="229" y="88" width="1" height="8" fill="#fff"/>
<rect x="233" y="70" width="1" height="21" fill="#000"/>
<rect x="232" y="81" width="3" height="10" fill="#000"/>
<rect x="233" y="82" width="1" height="8" fill="#fff"/>
<rect x="237" y="71" width="1" height="33" fill="#000"/>
<rect x="236" y="81" width="3" height="22" fill="#000"/>
<rect x="241" y="89" width="1" height="38" fill="#000"/>
<rect x="240" y="102" width="3" height="9" fill="#000"/>
<rect x="245" y="102" width="1" height="15" fill="#000"/>
<rect x="244" y="106" width="3" height="4" fill="#000"/>
<rect x="245" y="107" width="1" height="2" fill="#fff"/>
<rect x="249" y="90" width="1" height="25" fill="#000"/>
<rect x="248" y="106" width="3" height="5" fill="#000"/>
<rect x="253" y="91" width="1" height="20" fill="#000"/>
<rect x="257" y="93" width="1" height="18" fill="#000"/>
<rect x="256" y="99" width="3" height="10" fill="#000"/>
<rect x="261" y="87" width="1" height="23" fill="#000"/>
<rect x="260" y="106" width="3" height="3" fill="#000"/>
<rect x="261" y="107" width="1" height="1" fill="#fff"/>
<rect x="265" y="90" width="1" height="13" fill="#000"/>
<rect x="264" y="96" width="3" height="3" fill="#000"/>
<rect x="265" y="97" width="1" height="1" fill="#fff"/>
<rect x="269" y="94" width="1" height="17" fill="#000"/>
<rect x="268" y="96" width="3" height="15" fill="#000"/>
<rect x="273" y="106" width="1" height="9" fill="#000"/>
<rect x="277" y="108" width="1" height="21" fill="#000"/>
<rect x="276" y="113" width="3" height="13" fill="#000"/>
<rect x="281" y="120" width="1" height="8" fill="#000"/>
<rect x="280" y="125" width="3" height="1" fill="#000"/>
<rect x="285" y="122" width="1" height="9" fill="#000"/>
<rect x="284" y="124" width="3" height="6" fill="#000"/>
<rect x="289" y="117" width="1" height="26" fill="#000"/>
<rect x="288" y="128" width="3" height="13" fill="#000"/>
<rect x="293" y="132" width="1" height="22" fill="#000"/>
<rect x="292" y="139" width="3" height="11" fill="#000"/>
<rect x="297" y="144" width="1" height="16" fill="#000"/>
<rect x="296" y="148" width="3" height="1" fill="#000"/>
<rect x="301" y="137" width="1" height="20" fill="#000"/>
<rect x="300" y="145" width="3" height="5" fill="#000"/>
<rect x="301" y="146" width="1" height="3" fill="#fff"/>
<rect x="305" y="136" width="1" height="12" fill="#000"/>
<rect x="304" y="140" width="3" height="4" fill="#000"/>
<rect x="305" y="141" width="1" height="2" fill="#fff"/>
<rect x="309" y="111" width="1" height="33" fill="#000"/>
<rect x="308" y="112" width="3" height="29" fill="#000"/>
<rect x="309" y="113" width="1" height="27" fill="#fff"/>
<rect x="313" y="112" width="1" height="3" fill="#000"/>
<rect x="312" y="113" width="3" height="1" fill="#000"/>
<rect x="317" y="101" width="1" height="17" fill="#000"/>
<rect x="321" y="75" width="1" height="51" fill="#000"/>
<rect x="320" y="78" width="3" height="38" fill="#000"/>
<rect x="321" y="79" width="1" height="36" fill="#fff"/>
<rect x="325" y="77" width="1" height="24" fill="#000"/>
<rect x="324" y="84" width="3" height="13" fill="#000"/>
<rect x="329" y="86" width="1" height="20" fill="#000"/>
<rect x="328" y="96" width="3" height="8" fill="#000"/>
<rect x="333" y="101" width="1" height="25" fill="#000"/>
<rect x="332" y="103" width="3" height="19" fill="#000"/>
<rect x="337" y="115" width="1" height="17" fill="#000"/>
<rect x="336" y="121" width="3" height="1" fill="#000"/>
<rect x="341" y="114" width="1" height="11" fill="#000"/>
<rect x="340" y="117" width="3" height="7" fill="#000"/>
<rect x="345" y="114" width="1" height="26" fill="#000"/>
<rect x="344" y="123" width="3" height="13" fill="#000"/>
<rect x="349" y="130" width="1" height="20" fill="#000"/>
<rect x="348" y="134" width="3" height="15" fill="#000"/>
<rect x="353" y="142" width="1" height="27" fill="#000"/>
<rect x="352" y="147" width="3" height="19" fill="#000"/>
<rect x="357" y="161" width="1" height="20" fill="#000"/>
<rect x="356" y="164" width="3" height="15" fill="#000"/>
<rect x="361" y="176" width="1" height="24" fill="#000"/>
<rect x="360" y="177" width="3" height="23" fill="#000"/>
<rect x="365" y="186" width="1" height="13" fill="#000"/>
<rect x="364" y="193" width="3" height="5" fill="#000"/>
<rect x="369" y="172" width="1" height="35" fill="#000"/>
<rect x="368" y="196" width="3" height="6" fill="#000"/>
<rect x="373" y="197" width="1" height="27" fill="#000"/>
<rect x="372" y="200" width="3" height="16" fill="#000"/>
<rect x="377" y="206" width="1" height="22" fill="#000"/>
<rect x="376" y="213" width="3" height="4" fill="#000"/>
<rect x="377" y="214" width="1" height="2" fill="#fff"/>
<rect x="381" y="193" width="1" height="24" fill="#000"/>
<rect x="380" y="198" width="3" height="16" fill="#000"/>
<rect x="381" y="199" width="1" height="14" fill="#fff"/>
<rect x="385" y="189" width="1" height="21" fill="#000"/>
<rect x="384" y="195" width="3" height="14" fill="#000"/>
<rect x="389" y="201" width="1" height="15" fill="#000"/>
<rect x="388" y="209" width="3" height="7" fill="#000"/>
<rect x="393" y="209" width="1" height="17" fill="#000"/>
<rect x="392" y="213" width="3" height="9" fill="#000"/>
<rect x="397" y="218" width="1" height="16" fill="#000"/>
<rect x="396" y="221" width="3" height="7" fill="#000"/>
<rect x="401" y="217" width="1" height="23" fill="#000"/>
<rect x="400" y="221" width="3" height="7" fill="#000"/>
<rect x="401" y="222" width="1" height="5" fill="#fff"/>
<rect x="405" y="209" width="1" height="17" fill="#000"/>
<rect x="404" y="211" width="3" height="11" fill="#000"/>
<rect x="405" y="212" width="1" height="9" fill="#fff"/>
<rect x="409" y="198" width="1" height="21" fill="#000"/>
<rect x="408" y="202" width="3" height="10" fill="#000"/>
<rect x="409" y="203" width="1" height="8" fill="#fff"/>
<rect x="413" y="190" width="1" height="18" fill="#000"/>
<rect x="412" y="202" width="3" height="6" fill="#000"/>
<rect x="417" y="191" width="1" height="19" fill="#000"/>
<rect x="416" y="206" width="3" height="1" fill="#000"/>
<rect x="421" y="185" width="1" height="23" fill="#000"/>
<rect x="420" y="192" width="3" height="16" fill="#000"/>
<rect x="421" y="193" width="1" height="14" fill="#fff"/>
<rect x="425" y="192" width="1" height="24" fill="#000"/>
<rect x="424" y="196" width="3" height="11" fill="#000"/>
<rect x="429" y="193" width="1" height="17" fill="#000"/>
<rect x="428" y="199" width="3" height="8" fill="#000"/>
<rect x="429" y="200" width="1" height="6" fill="#fff"/>
<rect x="433" y="186" width="1" height="22" fill="#000"/>
<rect x="432" y="200" width="3" height="6" fill="#000"/>
<rect x="437" y="200" width="1" height="14" fill="#000"/>
<rect x="436" y="205" width="3" height="5" fill="#000"/>
<rect x="441" y="206" width="1" height="29" fill="#000"/>
<rect x="440" y="208" width="3" height="26" fill="#000"/>
<rect x="445" y="227" width="1" height="21" fill="#000"/>
<rect x="444" y="234" width="3" height="14" fill="#000"/>
<rect x="449" y="238" width="1" height="16" fill="#000"/>
<rect x="448" y="239" width="3" height="8" fill="#000"/>
<rect x="449" y="240" width="1" height="6" fill="#fff"/>
<rect x="453" y="209" width="1" height="36" fill="#000"/>
<rect x="452" y="217" width="3" height="25" fill="#000"/>
<rect x="453" y="218" width="1" height="23" fill="#fff"/>
<rect x="457" y="195" width="1" height="28" fill="#000"/>
<rect x="456" y="201" width="3" height="17" fill="#000"/>
<rect x="457" y="202" width="1" height="15" fill="#fff"/>
<rect x="461" y="189" width="1" height="29" fill="#000"/>
<rect x="460" y="192" width="3" height="10" fill="#000"/>
<rect x="461" y="193" width="1" height="8" fill="#fff"/>
<rect x="465" y="184" width="1" height="17" fill="#000"/>
<rect x="464" y="193" width="3" height="4" fill="#000"/>
<rect x="465" y="194" width="1" height="2" fill="#fff"/>
<rect x="469" y="181" width="1" height="30" fill="#000"/>
<rect x="468" y="193" width="3" height="16" fill="#000"/>
<rect x="473" y="200" width="1" height="14" fill="#000"/>
<rect x="472" y="205" width="3" height="5" fill="#000"/>
<rect x="473" y="206" width="1" height="3" fill="#fff"/>
<rect x="477" y="195" width="1" height="19" fill="#000"/>
<rect x="476" y="205" width="3" height="7" fill="#000"/>
<rect x="481" y="192" width="1" height="21" fill="#000"/>
<rect x="480" y="204" width="3" height="7" fill="#000"/>
<rect x="481" y="205" width="1" height="5" fill="#fff"/>
<rect x="485" y="198" width="1" height="23" fill="#000"/>
<rect x="484" y="205" width="3" height="15" fill="#000"/>
<rect x="489" y="216" width="1" height="18" fill="#000"/>
<rect x="488" y="219" width="3" height="12" fill="#000"/>
<rect x="493" y="228" width="1" height="13" fill="#000"/>
<rect x="492" y="230" width="3" height="11" fill="#000"/>
<rect x="497" y="231" width="1" height="9" fill="#000"/>
<rect x="496" y="236" width="3" height="1" fill="#000"/>
<rect x="501" y="232" width="1" height="28" fill="#000"/>
<rect x="500" y="234" width="3" height="17" fill="#000"/>
<rect x="505" y="244" width="1" height="12" fill="#000"/>
<rect x="504" y="247" width="3" height="6" fill="#000"/>
<rect x="509" y="249" width="1" height="23" fill="#000"/>
<rect x="508" y="250" width="3" height="18" fill="#000"/>
<rect x="513" y="249" width="1" height="21" fill="#000"/>
<rect x="512" y="254" width="3" height="13" fill="#000"/>
<rect x="513" y="255" width="1" height="11" fill="#fff"/>
<rect x="517" y="237" width="1" height="21" fill="#000"/>
<rect x="516" y="249" width="3" height="6" fill="#000"/>
<rect x="517" y="250" width="1" height="4" fill="#fff"/>
<rect x="521" y="234" width="1" height="20" fill="#000"/>
<rect x="520" y="235" width="3" height="15" fill="#000"/>
<rect x="521" y="236" width="1" height="13" fill="#fff"/>
<rect x="525" y="234" width="1" height="20" fill="#000"/>
<rect x="524" y="242" width="3" height="11" fill="#000"/>
<rect x="529" y="249" width="1" height="34" fill="#000"/>
<rect x="528" y="251" width="3" height="29" fill="#000"/>
<rect x="533" y="266" width="1" height="22" fill="#000"/>
<rect x="532" y="274" width="3" height="6" fill="#000"/>
<rect x="533" y="275" width="1" height="4" fill="#fff"/>
<rect x="537" y="239" width="1" height="37" fill="#000"/>
<rect x="536" y="243" width="3" height="33" fill="#000"/>
<rect x="537" y="244" width="1" height="31" fill="#fff"/>
<rect x="541" y="240" width="1" height="22" fill="#000"/>
<rect x="540" y="243" width="3" height="16" fill="#000"/>
<rect x="545" y="250" width="1" height="18" fill="#000"/>
<rect x="544" y="260" width="3" height="1" fill="#000"/>
<rect x="549" y="260" width="1" height="18" fill="#000"/>
<rect x="548" y="260" width="3" height="12" fill="#000"/>
<rect x="553" y="249" width="1" height="26" fill="#000"/>
<rect x="552" y="259" width="3" height="13" fill="#000"/>
<rect x="553" y="260" width="1" height="11" fill="#fff"/>
<rect x="557" y="250" width="1" height="23" fill="#000"/>
<rect x="556" y="260" width="3" height="10" fill="#000"/>
<rect x="561" y="266" width="1" height="24" fill="#000"/>
<rect x="560" y="269" width="3" height="20" fill="#000"/>
<rect x="565" y="286" width="1" height="46" fill="#000"/>
<rect x="564" y="288" width="3" height="44" fill="#000"/>
<rect x="569" y="328" width="1" height="29" fill="#000"/>
<rect x="568" y="331" width="3" height="19" fill="#000"/>
<rect x="573" y="320" width="1" height="33" fill="#000"/>
<rect x="572" y="349" width="3" height="1" fill="#000"/>
<rect x="577" y="342" width="1" height="28" fill="#000"/>
<rect x="576" y="348" width="3" height="9" fill="#000"/>
<rect x="581" y="343" width="1" height="22" fill="#000"/>
<rect x="580" y="347" width="3" height="10" fill="#000"/>
<rect x="581" y="348" width="1" height="8" fill="#fff"/>
<rect x="585" y="338" width="1" height="24" fill="#000"/>
<rect x="584" y="351" width="3" height="3" fill="#000"/>
<rect x="585" y="352" width="1" height="1" fill="#fff"/>
<rect x="589" y="332" width="1" height="21" fill="#000"/>
<rect x="588" y="344" width="3" height="8" fill="#000"/>
<rect x="589" y="345" width="1" height="6" fill="#fff"/>
<rect x="593" y="337" width="1" height="20" fill="#000"/>
<rect x="592" y="343" width="3" height="8" fill="#000"/>
<rect x="597" y="339" width="1" height="25" fill="#000"/>
<rect x="596" y="353" width="3" height="1" fill="#000"/>
<rect x="601" y="348" width="1" height="35" fill="#000"/>
<rect x="600" y="352" width="3" height="29" fill="#000"/>
<rect x="605" y="359" width="1" height="23" fill="#000"/>
<rect x="604" y="368" width="3" height="10" fill="#000"/>
<rect x="605" y="369" width="1" height="8" fill="#fff"/>
<rect x="609" y="362" width="1" height="16" fill="#000"/>
<rect x="608" y="368" width="3" height="5" fill="#000"/>
<rect x="613" y="361" width="1" height="16" fill="#000"/>
<rect x="612" y="372" width="3" height="1" fill="#000"/>
<rect x="617" y="348" width="1" height="27" fill="#000"/>
<rect x="616" y="367" width="3" height="7" fill="#000"/>
<rect x="617" y="368" width="1" height="5" fill="#fff"/>
<rect x="621" y="341" width="1" height="28" fill="#000"/>
<rect x="620" y="349" width="3" height="19" fill="#000"/>
<rect x="621" y="350" width="1" height="17" fill="#fff"/>
<rect x="625" y="342" width="1" height="19" fill="#000"/>
<rect x="624" y="348" width="3" height="8" fill="#000"/>
<rect x="629" y="340" width="1" height="32" fill="#000"/>
<rect x="628" y="343" width="3" height="13" fill="#000"/>
<rect x="629" y="344" width="1" height="11" fill="#fff"/>
<rect x="633" y="341" width="1" height="18" fill="#000"/>
<rect x="632" y="346" width="3" height="11" fill="#000"/>
<rect x="637" y="315" width="1" height="45" fill="#000"/>
<rect x="636" y="320" width="3" height="37" fill="#000"/>
<rect x="637" y="321" width="1" height="35" fill="#fff"/>
<rect x="641" y="310" width="1" height="27" fill="#000"/>
<rect x="640" y="318" width="3" height="3" fill="#000"/>
<rect x="641" y="319" width="1" height="1" fill="#fff"/>
<rect x="645" y="312" width="1" height="22" fill="#000"/>
<rect x="644" y="317" width="3" height="14" fill="#000"/>
<rect x="649" y="304" width="1" height="30" fill="#000"/>
<rect x="648" y="312" width="3" height="19" fill="#000"/>
<rect x="649" y="313" width="1" height="17" fill="#fff"/>
<rect x="653" y="310" width="1" height="37" fill="#000"/>
<rect x="652" y="312" width="3" height="22" fill="#000"/>
<rect x="657" y="326" width="1" height="17" fill="#000"/>
<rect x="656" y="333" width="3" height="8" fill="#000"/>
<rect x="661" y="328" width="1" height="24" fill="#000"/>
<rect x="660" y="340" width="3" height="8" fill="#000"/>
<rect x="665" y="341" width="1" height="47" fill="#000"/>
<rect x="664" y="348" width="3" height="24" fill="#000"/>
<rect x="669" y="360" width="1" height="40" fill="#000"/>
<rect x="668" y="370" width="3" height="3" fill="#000"/>
<rect x="669" y="371" width="1" height="1" fill="#fff"/>
<rect x="673" y="319" width="1" height="54" fill="#000"/>
<rect x="672" y="321" width="3" height="51" fill="#000"/>
<rect x="673" y="322" width="1" height="49" fill="#fff"/>
<rect x="677" y="294" width="1" height="39" fill="#000"/>
<rect x="676" y="301" width="3" height="21" fill="#000"/>
<rect x="677" y="302" width="1" height="19" fill="#fff"/>
<rect x="681" y="296" width="1" height="20" fill="#000"/>
<rect x="680" y="301" width="3" height="15" fill="#000"/>
<rect x="685" y="288" width="1" height="39" fill="#000"/>
<rect x="684" y="296" width="3" height="21" fill="#000"/>
<rect x="685" y="297" width="1" height="19" fill="#fff"/>
<rect x="689" y="287" width="1" height="18" fill="#000"/>
<rect x="688" y="296" width="3" height="1" fill="#000"/>
<rect x="693" y="291" width="1" height="10" fill="#000"/>
<rect x="692" y="292" width="3" height="5" fill="#000"/>
<rect x="693" y="293" width="1" height="3" fill="#fff"/>
</g>
<g fill="none" stroke-width="2.9" stroke-linejoin="round" stroke-linecap="butt" clip-path="url(#cm)" shape-rendering="crispEdges">
<polyline stroke="#ff0000" points="0,113.5 20,114 40,112.7 60,113.5 80,115.3 100,116.2 120,114.5 140,112.7 160,111.3 180,108.7 200,106.7 213,105.3 240,104.8 267,105 280,105.6 293,107 313,107.8 333,107.4 347,108 360,110.3 373,112.5 380,115 393,118.8 405,122 420,124.1 433,126 447,130 460,132.1 473,134.8 485,137.5 500,140.7 513,143.3 527,147.3 540,151.5 551,154.5 563,158.6 577,165 590,170.6 601,176.3 613,182 624,186.5 635,191.7 649,195.6 658,199 667,202.4 676,205 688,207.6 694,208.7"/>
<polyline stroke="#00fa9a" points="0,133.2 20,132.7 40,130 55,129.5 70,130 90,131.3 105,131.5 117,129.5 130,126 140,124.5 150,123.3 165,121.4 180,118.2 200,114.7 213,113.3 240,111.4 267,111.3 280,111.7 300,113.3 313,114 333,113.2 347,113.3 353,115 360,116.5 367,118.7 373,120.3 380,122.5 393,126.8 405,130 420,133.5 433,136.7 447,140.7 460,143.9 473,146 485,148.7 500,154 513,158 527,162 540,167 551,170.6 563,174.5 577,184.2 590,191 601,197.8 613,203.5 620,208 633,213.7 645,218.9 656,222.8 665,227.3 672,230.7 683,233 694,235.2"/>
<polyline stroke="#00ffff" points="0,182.7 5,179.3 10,177.5 17,176 22,172.5 27,168.7 33,163.7 41,158.5 49,153.3 57,151.3 65,150.6 80,150.6 93,151 100,148.7 105,147.3 113,144 120,137.5 125,132.5 130,130.5 133,127.8 141,125 150,123.8 157,122.2 165,117.5 175,110.5 185,105.3 193,103 200,101.3 213,97.5 225,97 237,97.1 250,98.4 267,99.3 275,101 280,102.6 290,104.7 300,109.2 313,110.2 320,109 333,109.8 345,111.5 353,114 360,119.5 367,124.5 373,130.7 380,134.5 387,140 393,144.7 399,150 405,154 420,160.7 433,166 440.7,170 447,174 450,176 457,179 465,179.6 477,182.7 485,184.5 493,188.3 503,192.7 513,198.7 520,202.3 533,209.7 547,215.7 558,221 565,228.3 570,233.7 577,242.3 585,251 593,257.7 601,266.3 609,273 620,282.5 627,288.7 633,291.3 640,293.3 645,294.7 653,297 660,301.3 665,304.7 669,306.4 677,307 685,306.5 690,305.8 695,304.6"/>
</g>
<polygon points="4,7 11.2,7 7.6,10.9" fill="#000"/>
<text x="16.4" y="12" fill="#000" stroke="#000" stroke-width="0.16" font-size="10.3" text-anchor="start" textLength="62" lengthAdjust="spacingAndGlyphs">GBPUSD,Daily</text>
<text x="86.5" y="12" fill="#000" stroke="#000" stroke-width="0.16" font-size="10.3" text-anchor="start" textLength="140.5" lengthAdjust="spacingAndGlyphs">1.23440 1.23701 1.23350 1.23614</text>
<g shape-rendering="crispEdges">
<rect x="1" y="10" width="704" height="1" fill="#a8a8a8"/>
<rect x="1" y="66" width="704" height="1" fill="#a8a8a8"/>
<rect x="1" y="210" width="704" height="1" fill="#a8a8a8"/>
<rect x="1" y="236" width="704" height="1" fill="#a8a8a8"/>
<rect x="1" y="247" width="704" height="1" fill="#a8a8a8"/>
<rect x="1" y="260" width="704" height="1" fill="#a8a8a8"/>
<rect x="1" y="292" width="704" height="1" fill="#a8a8a8"/>
<rect x="1" y="308" width="704" height="1" fill="#a8a8a8"/>
<rect x="1" y="316" width="704" height="1" fill="#a8a8a8"/>
<rect x="1" y="320" width="704" height="1" fill="#a8a8a8"/>
<rect x="1" y="388" width="704" height="1" fill="#a8a8a8"/>
</g>
<rect x="1" y="65" width="704" height="1.3" fill="#0000ff"/>
<rect x="1" y="389.6" width="704" height="1.3" fill="#0000ff"/>
<g clip-path="url(#cm)" fill="none" shape-rendering="crispEdges">
<line x1="-5" y1="84.9575" x2="720" y2="439.12" stroke="#00ff00" stroke-width="2.4"/>
<line x1="90" y1="-6.106" x2="720" y2="302.909" stroke="#00ff00" stroke-width="2.4"/>
<line x1="0" y1="18.5" x2="693.5" y2="359.147" stroke="#000" stroke-width="1"/>
<line x1="-3" y1="17.0264" x2="693.5" y2="359.147" stroke="#00f000" stroke-width="1" stroke-dasharray="3.5 4.5"/>
<line x1="696.5" y1="360.621" x2="699" y2="361.849" stroke="#00f000" stroke-width="1"/>
<line x1="702.5" y1="363.568" x2="705" y2="364.796" stroke="#00f000" stroke-width="1"/>
<ellipse cx="689.3" cy="287.4" rx="3.6" ry="4" stroke="#ff0000" stroke-width="0.9" shape-rendering="auto"/>
</g>
<text x="704" y="63" fill="#0000ff" stroke="#0000ff" stroke-width="0.16" font-size="10.3" text-anchor="end" textLength="17.6" lengthAdjust="spacingAndGlyphs">23.6</text>
<text x="704" y="387.6" fill="#0000ff" stroke="#0000ff" stroke-width="0.16" font-size="10.3" text-anchor="end" textLength="12.2" lengthAdjust="spacingAndGlyphs">0.0</text>
<g shape-rendering="crispEdges">
<rect x="1" y="425" width="3" height="1" fill="#c0c0c0"/>
<rect x="7" y="425" width="3" height="1" fill="#c0c0c0"/>
<rect x="13" y="425" width="3" height="1" fill="#c0c0c0"/>
<rect x="19" y="425" width="3" height="1" fill="#c0c0c0"/>
<rect x="25" y="425" width="3" height="1" fill="#c0c0c0"/>
<rect x="31" y="425" width="3" height="1" fill="#c0c0c0"/>
<rect x="37" y="425" width="3" height="1" fill="#c0c0c0"/>
<rect x="43" y="425" width="3" height="1" fill="#c0c0c0"/>
<rect x="49" y="425" width="3" height="1" fill="#c0c0c0"/>
<rect x="55" y="425" width="3" height="1" fill="#c0c0c0"/>
<rect x="61" y="425" width="3" height="1" fill="#c0c0c0"/>
<rect x="67" y="425" width="3" height="1" fill="#c0c0c0"/>
<rect x="73" y="425" width="3" height="1" fill="#c0c0c0"/>
<rect x="79" y="425" width="3" height="1" fill="#c0c0c0"/>
<rect x="85" y="425" width="3" height="1" fill="#c0c0c0"/>
<rect x="91" y="425" width="3" height="1" fill="#c0c0c0"/>
<rect x="97" y="425" width="3" height="1" fill="#c0c0c0"/>
<rect x="103" y="425" width="3" height="1" fill="#c0c0c0"/>
<rect x="109" y="425" width="3" height="1" fill="#c0c0c0"/>
<rect x="115" y="425" width="3" height="1" fill="#c0c0c0"/>
<rect x="121" y="425" width="3" height="1" fill="#c0c0c0"/>
<rect x="127" y="425" width="3" height="1" fill="#c0c0c0"/>
<rect x="133" y="425" width="3" height="1" fill="#c0c0c0"/>
<rect x="139" y="425" width="3" height="1" fill="#c0c0c0"/>
<rect x="145" y="425" width="3" height="1" fill="#c0c0c0"/>
<rect x="151" y="425" width="3" height="1" fill="#c0c0c0"/>
<rect x="157" y="425" width="3" height="1" fill="#c0c0c0"/>
<rect x="163" y="425" width="3" height="1" fill="#c0c0c0"/>
<rect x="169" y="425" width="3" height="1" fill="#c0c0c0"/>
<rect x="175" y="425" width="3" height="1" fill="#c0c0c0"/>
<rect x="181" y="425" width="3" height="1" fill="#c0c0c0"/>
<rect x="187" y="425" width="3" height="1" fill="#c0c0c0"/>
<rect x="193" y="425" width="3" height="1" fill="#c0c0c0"/>
<rect x="199" y="425" width="3" height="1" fill="#c0c0c0"/>
<rect x="205" y="425" width="3" height="1" fill="#c0c0c0"/>
<rect x="211" y="425" width="3" height="1" fill="#c0c0c0"/>
<rect x="217" y="425" width="3" height="1" fill="#c0c0c0"/>
<rect x="223" y="425" width="3" height="1" fill="#c0c0c0"/>
<rect x="229" y="425" width="3" height="1" fill="#c0c0c0"/>
<rect x="235" y="425" width="3" height="1" fill="#c0c0c0"/>
<rect x="241" y="425" width="3" height="1" fill="#c0c0c0"/>
<rect x="247" y="425" width="3" height="1" fill="#c0c0c0"/>
<rect x="253" y="425" width="3" height="1" fill="#c0c0c0"/>
<rect x="259" y="425" width="3" height="1" fill="#c0c0c0"/>
<rect x="265" y="425" width="3" height="1" fill="#c0c0c0"/>
<rect x="271" y="425" width="3" height="1" fill="#c0c0c0"/>
<rect x="277" y="425" width="3" height="1" fill="#c0c0c0"/>
<rect x="283" y="425" width="3" height="1" fill="#c0c0c0"/>
<rect x="289" y="425" width="3" height="1" fill="#c0c0c0"/>
<rect x="295" y="425" width="3" height="1" fill="#c0c0c0"/>
<rect x="301" y="425" width="3" height="1" fill="#c0c0c0"/>
<rect x="307" y="425" width="3" height="1" fill="#c0c0c0"/>
<rect x="313" y="425" width="3" height="1" fill="#c0c0c0"/>
<rect x="319" y="425" width="3" height="1" fill="#c0c0c0"/>
<rect x="325" y="425" width="3" height="1" fill="#c0c0c0"/>
<rect x="331" y="425" width="3" height="1" fill="#c0c0c0"/>
<rect x="337" y="425" width="3" height="1" fill="#c0c0c0"/>
<rect x="343" y="425" width="3" height="1" fill="#c0c0c0"/>
<rect x="349" y="425" width="3" height="1" fill="#c0c0c0"/>
<rect x="355" y="425" width="3" height="1" fill="#c0c0c0"/>
<rect x="361" y="425" width="3" height="1" fill="#c0c0c0"/>
<rect x="367" y="425" width="3" height="1" fill="#c0c0c0"/>
<rect x="373" y="425" width="3" height="1" fill="#c0c0c0"/>
<rect x="379" y="425" width="3" height="1" fill="#c0c0c0"/>
<rect x="385" y="425" width="3" height="1" fill="#c0c0c0"/>
<rect x="391" y="425" width="3" height="1" fill="#c0c0c0"/>
<rect x="397" y="425" width="3" height="1" fill="#c0c0c0"/>
<rect x="403" y="425" width="3" height="1" fill="#c0c0c0"/>
<rect x="409" y="425" width="3" height="1" fill="#c0c0c0"/>
<rect x="415" y="425" width="3" height="1" fill="#c0c0c0"/>
<rect x="421" y="425" width="3" height="1" fill="#c0c0c0"/>
<rect x="427" y="425" width="3" height="1" fill="#c0c0c0"/>
<rect x="433" y="425" width="3" height="1" fill="#c0c0c0"/>
<rect x="439" y="425" width="3" height="1" fill="#c0c0c0"/>
<rect x="445" y="425" width="3" height="1" fill="#c0c0c0"/>
<rect x="451" y="425" width="3" height="1" fill="#c0c0c0"/>
<rect x="457" y="425" width="3" height="1" fill="#c0c0c0"/>
<rect x="463" y="425" width="3" height="1" fill="#c0c0c0"/>
<rect x="469" y="425" width="3" height="1" fill="#c0c0c0"/>
<rect x="475" y="425" width="3" height="1" fill="#c0c0c0"/>
<rect x="481" y="425" width="3" height="1" fill="#c0c0c0"/>
<rect x="487" y="425" width="3" height="1" fill="#c0c0c0"/>
<rect x="493" y="425" width="3" height="1" fill="#c0c0c0"/>
<rect x="499" y="425" width="3" height="1" fill="#c0c0c0"/>
<rect x="505" y="425" width="3" height="1" fill="#c0c0c0"/>
<rect x="511" y="425" width="3" height="1" fill="#c0c0c0"/>
<rect x="517" y="425" width="3" height="1" fill="#c0c0c0"/>
<rect x="523" y="425" width="3" height="1" fill="#c0c0c0"/>
<rect x="529" y="425" width="3" height="1" fill="#c0c0c0"/>
<rect x="535" y="425" width="3" height="1" fill="#c0c0c0"/>
<rect x="541" y="425" width="3" height="1" fill="#c0c0c0"/>
<rect x="547" y="425" width="3" height="1" fill="#c0c0c0"/>
<rect x="553" y="425" width="3" height="1" fill="#c0c0c0"/>
<rect x="559" y="425" width="3" height="1" fill="#c0c0c0"/>
<rect x="565" y="425" width="3" height="1" fill="#c0c0c0"/>
<rect x="571" y="425" width="3" height="1" fill="#c0c0c0"/>
<rect x="577" y="425" width="3" height="1" fill="#c0c0c0"/>
<rect x="583" y="425" width="3" height="1" fill="#c0c0c0"/>
<rect x="589" y="425" width="3" height="1" fill="#c0c0c0"/>
<rect x="595" y="425" width="3" height="1" fill="#c0c0c0"/>
<rect x="601" y="425" width="3" height="1" fill="#c0c0c0"/>
<rect x="607" y="425" width="3" height="1" fill="#c0c0c0"/>
<rect x="613" y="425" width="3" height="1" fill="#c0c0c0"/>
<rect x="619" y="425" width="3" height="1" fill="#c0c0c0"/>
<rect x="625" y="425" width="3" height="1" fill="#c0c0c0"/>
<rect x="631" y="425" width="3" height="1" fill="#c0c0c0"/>
<rect x="637" y="425" width="3" height="1" fill="#c0c0c0"/>
<rect x="643" y="425" width="3" height="1" fill="#c0c0c0"/>
<rect x="649" y="425" width="3" height="1" fill="#c0c0c0"/>
<rect x="655" y="425" width="3" height="1" fill="#c0c0c0"/>
<rect x="661" y="425" width="3" height="1" fill="#c0c0c0"/>
<rect x="667" y="425" width="3" height="1" fill="#c0c0c0"/>
<rect x="673" y="425" width="3" height="1" fill="#c0c0c0"/>
<rect x="679" y="425" width="3" height="1" fill="#c0c0c0"/>
<rect x="685" y="425" width="3" height="1" fill="#c0c0c0"/>
<rect x="691" y="425" width="3" height="1" fill="#c0c0c0"/>
<rect x="697" y="425" width="3" height="1" fill="#c0c0c0"/>
<rect x="703" y="425" width="2" height="1" fill="#c0c0c0"/>
<rect x="1" y="464" width="3" height="1" fill="#c0c0c0"/>
<rect x="7" y="464" width="3" height="1" fill="#c0c0c0"/>
<rect x="13" y="464" width="3" height="1" fill="#c0c0c0"/>
<rect x="19" y="464" width="3" height="1" fill="#c0c0c0"/>
<rect x="25" y="464" width="3" height="1" fill="#c0c0c0"/>
<rect x="31" y="464" width="3" height="1" fill="#c0c0c0"/>
<rect x="37" y="464" width="3" height="1" fill="#c0c0c0"/>
<rect x="43" y="464" width="3" height="1" fill="#c0c0c0"/>
<rect x="49" y="464" width="3" height="1" fill="#c0c0c0"/>
<rect x="55" y="464" width="3" height="1" fill="#c0c0c0"/>
<rect x="61" y="464" width="3" height="1" fill="#c0c0c0"/>
<rect x="67" y="464" width="3" height="1" fill="#c0c0c0"/>
<rect x="73" y="464" width="3" height="1" fill="#c0c0c0"/>
<rect x="79" y="464" width="3" height="1" fill="#c0c0c0"/>
<rect x="85" y="464" width="3" height="1" fill="#c0c0c0"/>
<rect x="91" y="464" width="3" height="1" fill="#c0c0c0"/>
<rect x="97" y="464" width="3" height="1" fill="#c0c0c0"/>
<rect x="103" y="464" width="3" height="1" fill="#c0c0c0"/>
<rect x="109" y="464" width="3" height="1" fill="#c0c0c0"/>
<rect x="115" y="464" width="3" height="1" fill="#c0c0c0"/>
<rect x="121" y="464" width="3" height="1" fill="#c0c0c0"/>
<rect x="127" y="464" width="3" height="1" fill="#c0c0c0"/>
<rect x="133" y="464" width="3" height="1" fill="#c0c0c0"/>
<rect x="139" y="464" width="3" height="1" fill="#c0c0c0"/>
<rect x="145" y="464" width="3" height="1" fill="#c0c0c0"/>
<rect x="151" y="464" width="3" height="1" fill="#c0c0c0"/>
<rect x="157" y="464" width="3" height="1" fill="#c0c0c0"/>
<rect x="163" y="464" width="3" height="1" fill="#c0c0c0"/>
<rect x="169" y="464" width="3" height="1" fill="#c0c0c0"/>
<rect x="175" y="464" width="3" height="1" fill="#c0c0c0"/>
<rect x="181" y="464" width="3" height="1" fill="#c0c0c0"/>
<rect x="187" y="464" width="3" height="1" fill="#c0c0c0"/>
<rect x="193" y="464" width="3" height="1" fill="#c0c0c0"/>
<rect x="199" y="464" width="3" height="1" fill="#c0c0c0"/>
<rect x="205" y="464" width="3" height="1" fill="#c0c0c0"/>
<rect x="211" y="464" width="3" height="1" fill="#c0c0c0"/>
<rect x="217" y="464" width="3" height="1" fill="#c0c0c0"/>
<rect x="223" y="464" width="3" height="1" fill="#c0c0c0"/>
<rect x="229" y="464" width="3" height="1" fill="#c0c0c0"/>
<rect x="235" y="464" width="3" height="1" fill="#c0c0c0"/>
<rect x="241" y="464" width="3" height="1" fill="#c0c0c0"/>
<rect x="247" y="464" width="3" height="1" fill="#c0c0c0"/>
<rect x="253" y="464" width="3" height="1" fill="#c0c0c0"/>
<rect x="259" y="464" width="3" height="1" fill="#c0c0c0"/>
<rect x="265" y="464" width="3" height="1" fill="#c0c0c0"/>
<rect x="271" y="464" width="3" height="1" fill="#c0c0c0"/>
<rect x="277" y="464" width="3" height="1" fill="#c0c0c0"/>
<rect x="283" y="464" width="3" height="1" fill="#c0c0c0"/>
<rect x="289" y="464" width="3" height="1" fill="#c0c0c0"/>
<rect x="295" y="464" width="3" height="1" fill="#c0c0c0"/>
<rect x="301" y="464" width="3" height="1" fill="#c0c0c0"/>
<rect x="307" y="464" width="3" height="1" fill="#c0c0c0"/>
<rect x="313" y="464" width="3" height="1" fill="#c0c0c0"/>
<rect x="319" y="464" width="3" height="1" fill="#c0c0c0"/>
<rect x="325" y="464" width="3" height="1" fill="#c0c0c0"/>
<rect x="331" y="464" width="3" height="1" fill="#c0c0c0"/>
<rect x="337" y="464" width="3" height="1" fill="#c0c0c0"/>
<rect x="343" y="464" width="3" height="1" fill="#c0c0c0"/>
<rect x="349" y="464" width="3" height="1" fill="#c0c0c0"/>
<rect x="355" y="464" width="3" height="1" fill="#c0c0c0"/>
<rect x="361" y="464" width="3" height="1" fill="#c0c0c0"/>
<rect x="367" y="464" width="3" height="1" fill="#c0c0c0"/>
<rect x="373" y="464" width="3" height="1" fill="#c0c0c0"/>
<rect x="379" y="464" width="3" height="1" fill="#c0c0c0"/>
<rect x="385" y="464" width="3" height="1" fill="#c0c0c0"/>
<rect x="391" y="464" width="3" height="1" fill="#c0c0c0"/>
<rect x="397" y="464" width="3" height="1" fill="#c0c0c0"/>
<rect x="403" y="464" width="3" height="1" fill="#c0c0c0"/>
<rect x="409" y="464" width="3" height="1" fill="#c0c0c0"/>
<rect x="415" y="464" width="3" height="1" fill="#c0c0c0"/>
<rect x="421" y="464" width="3" height="1" fill="#c0c0c0"/>
<rect x="427" y="464" width="3" height="1" fill="#c0c0c0"/>
<rect x="433" y="464" width="3" height="1" fill="#c0c0c0"/>
<rect x="439" y="464" width="3" height="1" fill="#c0c0c0"/>
<rect x="445" y="464" width="3" height="1" fill="#c0c0c0"/>
<rect x="451" y="464" width="3" height="1" fill="#c0c0c0"/>
<rect x="457" y="464" width="3" height="1" fill="#c0c0c0"/>
<rect x="463" y="464" width="3" height="1" fill="#c0c0c0"/>
<rect x="469" y="464" width="3" height="1" fill="#c0c0c0"/>
<rect x="475" y="464" width="3" height="1" fill="#c0c0c0"/>
<rect x="481" y="464" width="3" height="1" fill="#c0c0c0"/>
<rect x="487" y="464" width="3" height="1" fill="#c0c0c0"/>
<rect x="493" y="464" width="3" height="1" fill="#c0c0c0"/>
<rect x="499" y="464" width="3" height="1" fill="#c0c0c0"/>
<rect x="505" y="464" width="3" height="1" fill="#c0c0c0"/>
<rect x="511" y="464" width="3" height="1" fill="#c0c0c0"/>
<rect x="517" y="464" width="3" height="1" fill="#c0c0c0"/>
<rect x="523" y="464" width="3" height="1" fill="#c0c0c0"/>
<rect x="529" y="464" width="3" height="1" fill="#c0c0c0"/>
<rect x="535" y="464" width="3" height="1" fill="#c0c0c0"/>
<rect x="541" y="464" width="3" height="1" fill="#c0c0c0"/>
<rect x="547" y="464" width="3" height="1" fill="#c0c0c0"/>
<rect x="553" y="464" width="3" height="1" fill="#c0c0c0"/>
<rect x="559" y="464" width="3" height="1" fill="#c0c0c0"/>
<rect x="565" y="464" width="3" height="1" fill="#c0c0c0"/>
<rect x="571" y="464" width="3" height="1" fill="#c0c0c0"/>
<rect x="577" y="464" width="3" height="1" fill="#c0c0c0"/>
<rect x="583" y="464" width="3" height="1" fill="#c0c0c0"/>
<rect x="589" y="464" width="3" height="1" fill="#c0c0c0"/>
<rect x="595" y="464" width="3" height="1" fill="#c0c0c0"/>
<rect x="601" y="464" width="3" height="1" fill="#c0c0c0"/>
<rect x="607" y="464" width="3" height="1" fill="#c0c0c0"/>
<rect x="613" y="464" width="3" height="1" fill="#c0c0c0"/>
<rect x="619" y="464" width="3" height="1" fill="#c0c0c0"/>
<rect x="625" y="464" width="3" height="1" fill="#c0c0c0"/>
<rect x="631" y="464" width="3" height="1" fill="#c0c0c0"/>
<rect x="637" y="464" width="3" height="1" fill="#c0c0c0"/>
<rect x="643" y="464" width="3" height="1" fill="#c0c0c0"/>
<rect x="649" y="464" width="3" height="1" fill="#c0c0c0"/>
<rect x="655" y="464" width="3" height="1" fill="#c0c0c0"/>
<rect x="661" y="464" width="3" height="1" fill="#c0c0c0"/>
<rect x="667" y="464" width="3" height="1" fill="#c0c0c0"/>
<rect x="673" y="464" width="3" height="1" fill="#c0c0c0"/>
<rect x="679" y="464" width="3" height="1" fill="#c0c0c0"/>
<rect x="685" y="464" width="3" height="1" fill="#c0c0c0"/>
<rect x="691" y="464" width="3" height="1" fill="#c0c0c0"/>
<rect x="697" y="464" width="3" height="1" fill="#c0c0c0"/>
<rect x="703" y="464" width="2" height="1" fill="#c0c0c0"/>
</g>
<g shape-rendering="crispEdges" clip-path="url(#ci)">
<rect x="0" y="424" width="3" height="21" fill="#00bfff"/>
<rect x="4" y="421" width="3" height="24" fill="#00bfff"/>
<rect x="8" y="426" width="3" height="19" fill="#00bfff"/>
<rect x="12" y="428" width="3" height="17" fill="#00bfff"/>
<rect x="16" y="429" width="3" height="16" fill="#00bfff"/>
<rect x="20" y="426" width="3" height="19" fill="#00bfff"/>
<rect x="24" y="424" width="3" height="21" fill="#00bfff"/>
<rect x="28" y="422" width="3" height="23" fill="#00bfff"/>
<rect x="32" y="420" width="3" height="25" fill="#00bfff"/>
<rect x="36" y="424" width="3" height="21" fill="#00bfff"/>
<rect x="40" y="428" width="3" height="17" fill="#00bfff"/>
<rect x="44" y="433" width="3" height="12" fill="#00bfff"/>
<rect x="48" y="439" width="3" height="6" fill="#00bfff"/>
<rect x="52" y="445" width="3" height="3" fill="#00bfff"/>
<rect x="56" y="445" width="3" height="13" fill="#00bfff"/>
<rect x="60" y="445" width="3" height="20" fill="#00bfff"/>
<rect x="64" y="445" width="3" height="22" fill="#00bfff"/>
<rect x="68" y="445" width="3" height="25" fill="#00bfff"/>
<rect x="72" y="445" width="3" height="29" fill="#00bfff"/>
<rect x="76" y="445" width="3" height="29" fill="#00bfff"/>
<rect x="80" y="445" width="3" height="30" fill="#00bfff"/>
<rect x="84" y="445" width="3" height="31" fill="#00bfff"/>
<rect x="88" y="445" width="3" height="26" fill="#00bfff"/>
<rect x="92" y="445" width="3" height="19" fill="#00bfff"/>
<rect x="96" y="445" width="3" height="7" fill="#00bfff"/>
<rect x="100" y="443" width="3" height="2" fill="#00bfff"/>
<rect x="104" y="438" width="3" height="7" fill="#00bfff"/>
<rect x="108" y="434" width="3" height="11" fill="#00bfff"/>
<rect x="112" y="431" width="3" height="14" fill="#00bfff"/>
<rect x="116" y="425" width="3" height="20" fill="#00bfff"/>
<rect x="120" y="416" width="3" height="29" fill="#00bfff"/>
<rect x="124" y="415" width="3" height="30" fill="#00bfff"/>
<rect x="128" y="420" width="3" height="25" fill="#00bfff"/>
<rect x="132" y="426" width="3" height="19" fill="#00bfff"/>
<rect x="136" y="432" width="3" height="13" fill="#00bfff"/>
<rect x="140" y="438" width="3" height="7" fill="#00bfff"/>
<rect x="144" y="445" width="3" height="4" fill="#00bfff"/>
<rect x="148" y="445" width="3" height="15" fill="#00bfff"/>
<rect x="152" y="445" width="3" height="22" fill="#00bfff"/>
<rect x="156" y="445" width="3" height="18" fill="#00bfff"/>
<rect x="160" y="445" width="3" height="18" fill="#00bfff"/>
<rect x="164" y="445" width="3" height="6" fill="#00bfff"/>
<rect x="168" y="444" width="3" height="1" fill="#00bfff"/>
<rect x="172" y="438" width="3" height="7" fill="#00bfff"/>
<rect x="176" y="434" width="3" height="11" fill="#00bfff"/>
<rect x="180" y="435" width="3" height="10" fill="#00bfff"/>
<rect x="184" y="436" width="3" height="9" fill="#00bfff"/>
<rect x="188" y="442" width="3" height="3" fill="#00bfff"/>
<rect x="192" y="445" width="3" height="6" fill="#00bfff"/>
<rect x="196" y="445" width="3" height="10" fill="#00bfff"/>
<rect x="200" y="445" width="3" height="11" fill="#00bfff"/>
<rect x="204" y="445" width="3" height="12" fill="#00bfff"/>
<rect x="208" y="445" width="3" height="11" fill="#00bfff"/>
<rect x="212" y="445" width="3" height="13" fill="#00bfff"/>
<rect x="216" y="445" width="3" height="18" fill="#00bfff"/>
<rect x="220" y="445" width="3" height="22" fill="#00bfff"/>
<rect x="224" y="445" width="3" height="20" fill="#00bfff"/>
<rect x="228" y="445" width="3" height="17" fill="#00bfff"/>
<rect x="232" y="445" width="3" height="12" fill="#00bfff"/>
<rect x="236" y="445" width="3" height="14" fill="#00bfff"/>
<rect x="240" y="445" width="3" height="15" fill="#00bfff"/>
<rect x="244" y="445" width="3" height="13" fill="#00bfff"/>
<rect x="248" y="445" width="3" height="11" fill="#00bfff"/>
<rect x="252" y="445" width="3" height="10" fill="#00bfff"/>
<rect x="256" y="445" width="3" height="7" fill="#00bfff"/>
<rect x="260" y="445" width="3" height="6" fill="#00bfff"/>
<rect x="264" y="445" width="3" height="4" fill="#00bfff"/>
<rect x="268" y="445" width="3" height="3.6" fill="#00bfff"/>
<rect x="272" y="445" width="3" height="4" fill="#00bfff"/>
<rect x="276" y="445" width="3" height="5.6" fill="#00bfff"/>
<rect x="280" y="445" width="3" height="7" fill="#00bfff"/>
<rect x="284" y="445" width="3" height="9" fill="#00bfff"/>
<rect x="288" y="445" width="3" height="11" fill="#00bfff"/>
<rect x="292" y="445" width="3" height="13" fill="#00bfff"/>
<rect x="296" y="445" width="3" height="14" fill="#00bfff"/>
<rect x="300" y="445" width="3" height="13" fill="#00bfff"/>
<rect x="304" y="445" width="3" height="10" fill="#00bfff"/>
<rect x="308" y="445" width="3" height="2.6" fill="#00bfff"/>
<rect x="312" y="440" width="3" height="5" fill="#00bfff"/>
<rect x="316" y="436" width="3" height="9" fill="#00bfff"/>
<rect x="320" y="427" width="3" height="18" fill="#00bfff"/>
<rect x="324" y="425" width="3" height="20" fill="#00bfff"/>
<rect x="328" y="425" width="3" height="20" fill="#00bfff"/>
<rect x="332" y="430" width="3" height="15" fill="#00bfff"/>
<rect x="336" y="435" width="3" height="10" fill="#00bfff"/>
<rect x="340" y="439" width="3" height="6" fill="#00bfff"/>
<rect x="344" y="444" width="3" height="1" fill="#00bfff"/>
<rect x="348" y="445" width="3" height="8" fill="#00bfff"/>
<rect x="352" y="445" width="3" height="14" fill="#00bfff"/>
<rect x="356" y="445" width="3" height="20" fill="#00bfff"/>
<rect x="360" y="445" width="3" height="26" fill="#00bfff"/>
<rect x="364" y="445" width="3" height="28" fill="#00bfff"/>
<rect x="368" y="445" width="3" height="29" fill="#00bfff"/>
<rect x="372" y="445" width="3" height="27" fill="#00bfff"/>
<rect x="376" y="445" width="3" height="23" fill="#00bfff"/>
<rect x="380" y="445" width="3" height="20" fill="#00bfff"/>
<rect x="384" y="445" width="3" height="17" fill="#00bfff"/>
<rect x="388" y="445" width="3" height="13" fill="#00bfff"/>
<rect x="392" y="445" width="3" height="11" fill="#00bfff"/>
<rect x="396" y="445" width="3" height="9" fill="#00bfff"/>
<rect x="400" y="445" width="3" height="6" fill="#00bfff"/>
<rect x="404" y="444" width="3" height="1" fill="#00bfff"/>
<rect x="408" y="439" width="3" height="6" fill="#00bfff"/>
<rect x="412" y="436" width="3" height="9" fill="#00bfff"/>
<rect x="416" y="434" width="3" height="11" fill="#00bfff"/>
<rect x="420" y="430" width="3" height="15" fill="#00bfff"/>
<rect x="424" y="429" width="3" height="16" fill="#00bfff"/>
<rect x="428" y="428" width="3" height="17" fill="#00bfff"/>
<rect x="432" y="430" width="3" height="15" fill="#00bfff"/>
<rect x="436" y="432" width="3" height="13" fill="#00bfff"/>
<rect x="440" y="438" width="3" height="7" fill="#00bfff"/>
<rect x="444" y="444" width="3" height="1" fill="#00bfff"/>
<rect x="448" y="445" width="3" height="4" fill="#00bfff"/>
<rect x="452" y="445" width="3" height="1" fill="#00bfff"/>
<rect x="456" y="440" width="3" height="5" fill="#00bfff"/>
<rect x="460" y="435" width="3" height="10" fill="#00bfff"/>
<rect x="464" y="431" width="3" height="14" fill="#00bfff"/>
<rect x="468" y="430" width="3" height="15" fill="#00bfff"/>
<rect x="472" y="430" width="3" height="15" fill="#00bfff"/>
<rect x="476" y="432" width="3" height="13" fill="#00bfff"/>
<rect x="480" y="433" width="3" height="12" fill="#00bfff"/>
<rect x="484" y="437" width="3" height="8" fill="#00bfff"/>
<rect x="488" y="442" width="3" height="3" fill="#00bfff"/>
<rect x="492" y="445" width="3" height="4" fill="#00bfff"/>
<rect x="496" y="445" width="3" height="7" fill="#00bfff"/>
<rect x="500" y="445" width="3" height="10" fill="#00bfff"/>
<rect x="504" y="445" width="3" height="12" fill="#00bfff"/>
<rect x="508" y="445" width="3" height="15" fill="#00bfff"/>
<rect x="512" y="445" width="3" height="14" fill="#00bfff"/>
<rect x="516" y="445" width="3" height="11" fill="#00bfff"/>
<rect x="520" y="445" width="3" height="5" fill="#00bfff"/>
<rect x="524" y="445" width="3" height="3" fill="#00bfff"/>
<rect x="528" y="445" width="3" height="7" fill="#00bfff"/>
<rect x="532" y="445" width="3" height="7" fill="#00bfff"/>
<rect x="536" y="445" width="3" height="4" fill="#00bfff"/>
<rect x="540" y="445" width="3" height="2.5" fill="#00bfff"/>
<rect x="544" y="443.5" width="3" height="1.5" fill="#00bfff"/>
<rect x="548" y="443" width="3" height="2" fill="#00bfff"/>
<rect x="552" y="443" width="3" height="2" fill="#00bfff"/>
<rect x="556" y="443" width="3" height="2" fill="#00bfff"/>
<rect x="560" y="445" width="3" height="3" fill="#00bfff"/>
<rect x="564" y="445" width="3" height="12" fill="#00bfff"/>
<rect x="568" y="445" width="3" height="21" fill="#00bfff"/>
<rect x="572" y="445" width="3" height="26" fill="#00bfff"/>
<rect x="576" y="445" width="3" height="27" fill="#00bfff"/>
<rect x="580" y="445" width="3" height="26" fill="#00bfff"/>
<rect x="584" y="445" width="3" height="21" fill="#00bfff"/>
<rect x="588" y="445" width="3" height="18" fill="#00bfff"/>
<rect x="592" y="445" width="3" height="14" fill="#00bfff"/>
<rect x="596" y="445" width="3" height="10" fill="#00bfff"/>
<rect x="600" y="445" width="3" height="9" fill="#00bfff"/>
<rect x="604" y="445" width="3" height="6" fill="#00bfff"/>
<rect x="608" y="445" width="3" height="4" fill="#00bfff"/>
<rect x="612" y="445" width="3" height="3" fill="#00bfff"/>
<rect x="616" y="442" width="3" height="3" fill="#00bfff"/>
<rect x="620" y="437" width="3" height="8" fill="#00bfff"/>
<rect x="624" y="433" width="3" height="12" fill="#00bfff"/>
<rect x="628" y="430" width="3" height="15" fill="#00bfff"/>
<rect x="632" y="427" width="3" height="18" fill="#00bfff"/>
<rect x="636" y="421" width="3" height="24" fill="#00bfff"/>
<rect x="640" y="417" width="3" height="28" fill="#00bfff"/>
<rect x="644" y="417" width="3" height="28" fill="#00bfff"/>
<rect x="648" y="416" width="3" height="29" fill="#00bfff"/>
<rect x="652" y="420" width="3" height="25" fill="#00bfff"/>
<rect x="656" y="426" width="3" height="19" fill="#00bfff"/>
<rect x="660" y="430" width="3" height="15" fill="#00bfff"/>
<rect x="664" y="439" width="3" height="6" fill="#00bfff"/>
<rect x="668" y="444.5" width="3" height="0.5" fill="#00bfff"/>
<rect x="672" y="441" width="3" height="4" fill="#00bfff"/>
<rect x="676" y="434" width="3" height="11" fill="#00bfff"/>
<rect x="680" y="431" width="3" height="14" fill="#00bfff"/>
<rect x="684" y="426" width="3" height="19" fill="#00bfff"/>
<rect x="688" y="423" width="3" height="22" fill="#00bfff"/>
<rect x="692" y="421" width="3" height="24" fill="#00bfff"/>
</g>
<g shape-rendering="crispEdges">
<rect x="1" y="445" width="704" height="1" fill="#778899"/>
</g>
<text x="5.6" y="424" fill="#000" stroke="#000" stroke-width="0.16" font-size="10.3" text-anchor="start" textLength="63.5" lengthAdjust="spacingAndGlyphs">OsMA(12,26,9)</text>
<text x="72" y="424" fill="#000" stroke="#000" stroke-width="0.16" font-size="10.3" text-anchor="start" textLength="42.9" lengthAdjust="spacingAndGlyphs">0.0035760</text>
<text x="120.5" y="424" fill="#000" stroke="#000" stroke-width="0.16" font-size="10.3" text-anchor="start" textLength="50.7" lengthAdjust="spacingAndGlyphs">Stoch(5,3,3)</text>
<text x="173.9" y="424" fill="#000" stroke="#000" stroke-width="0.16" font-size="10.3" text-anchor="start" textLength="32.5" lengthAdjust="spacingAndGlyphs">88.8635</text>
<text x="209.6" y="424" fill="#000" stroke="#000" stroke-width="0.16" font-size="10.3" text-anchor="start" textLength="33.7" lengthAdjust="spacingAndGlyphs">87.8517</text>
<g fill="none" clip-path="url(#ci)" shape-rendering="crispEdges">
<polyline stroke="#ff0000" stroke-width="1" stroke-dasharray="2.6 2.6" points="1.5,428.8 5.5,426 9.5,426.133 13.5,426.4 17.5,430.133 21.5,430.933 25.5,429.067 29.5,424.1 33.5,420.467 37.5,421 41.5,426.767 45.5,437.067 49.5,446.667 53.5,456 57.5,462.933 61.5,469.333 65.5,469.6 69.5,466.4 73.5,461.6 77.5,459.733 81.5,461.867 85.5,463.733 89.5,463.467 93.5,456.267 97.5,442.667 101.5,430.3 105.5,422.733 109.5,423.8 113.5,424.867 117.5,425 121.5,421.8 125.5,420.567 129.5,423.2 133.5,430.933 137.5,441.067 141.5,450.133 145.5,457.333 149.5,462.4 153.5,467.2 157.5,465.067 161.5,458.133 165.5,444.7 169.5,437.5 173.5,431.2 177.5,429.967 181.5,428.367 185.5,430.667 189.5,436 193.5,443.467 197.5,447.467 201.5,446.133 205.5,440 209.5,435.1 213.5,433.233 217.5,438.833 221.5,449.867 225.5,458.667 229.5,458.4 233.5,450.3 237.5,443.1 241.5,441.5 245.5,446.133 249.5,452.533 253.5,455.467 257.5,454.133 261.5,450.133 265.5,446.4 269.5,446.4 273.5,450.667 277.5,460.533 281.5,467.633 285.5,472.067 289.5,472.5 293.5,473.033 297.5,472.067 301.5,469.233 305.5,463.733 309.5,453.6 313.5,441.867 317.5,431.9 321.5,427.467 325.5,426.567 329.5,428.533 333.5,436.433 337.5,448 341.5,459.467 345.5,465.333 349.5,468.533 353.5,470.667 357.5,473.067 361.5,474.4 365.5,474.933 369.5,474.667 373.5,473.6 377.5,470.933 381.5,466.133 385.5,460 389.5,454.667 393.5,454.667 397.5,458.233 401.5,461.7 405.5,459.033 409.5,449.067 413.5,438.033 417.5,430.567 421.5,429.667 425.5,432.333 429.5,435.8 433.5,442.033 437.5,448.267 441.5,457.867 445.5,465.867 449.5,471.2 453.5,467.2 457.5,454.933 461.5,438.667 465.5,426.133 469.5,422.133 473.5,426.4 477.5,437.333 481.5,449.067 485.5,460 489.5,466.133 493.5,470.567 497.5,471.9 501.5,471.9 505.5,469.333 509.5,467.467 513.5,464.8 517.5,460.8 521.5,450.833 525.5,441.067 529.5,438.4 533.5,446.4 537.5,452.7 541.5,451.1 545.5,442.767 549.5,441.067 553.5,443.3 557.5,449.067 561.5,453.967 565.5,462.133 569.5,469.333 573.5,473.5 577.5,472.967 581.5,471.1 585.5,468 589.5,462.933 593.5,456.267 597.5,450.667 601.5,452 605.5,456.8 609.5,462.4 613.5,462.133 617.5,459.733 621.5,452.267 625.5,443.2 629.5,433.333 633.5,430.133 637.5,427.467 641.5,426.933 645.5,424.7 649.5,425.133 653.5,428.333 657.5,434.033 661.5,445.867 665.5,457.767 669.5,464.433 673.5,458.833 677.5,444.8 681.5,430.5 685.5,422.5 689.5,420.2 693.5,420.533"/>
<polyline stroke="#0000ff" stroke-width="1" points="1.5,428.8 5.5,423.2 9.5,426.4 13.5,429.6 17.5,434.4 21.5,428.8 25.5,424 29.5,419.5 33.5,417.9 37.5,425.6 41.5,436.8 45.5,448.8 49.5,454.4 53.5,464.8 57.5,469.6 61.5,473.6 65.5,465.6 69.5,460 73.5,459.2 77.5,460 81.5,466.4 85.5,464.8 89.5,459.2 93.5,444.8 97.5,424 101.5,422.1 105.5,422.1 109.5,427.2 113.5,425.3 117.5,422.5 121.5,417.6 125.5,421.6 129.5,430.4 133.5,440.8 137.5,452 141.5,457.6 145.5,462.4 149.5,467.2 153.5,472 157.5,456 161.5,446.4 165.5,431.7 169.5,434.4 173.5,427.5 177.5,428 181.5,429.6 185.5,434.4 189.5,444 193.5,452 197.5,446.4 201.5,440 205.5,433.6 209.5,431.7 213.5,434.4 217.5,450.4 221.5,464.8 225.5,460.8 229.5,449.6 233.5,440.5 237.5,439.2 241.5,444.8 245.5,454.4 249.5,458.4 253.5,453.6 257.5,450.4 261.5,446.4 265.5,442.4 269.5,450.4 273.5,459.2 277.5,472 281.5,471.7 285.5,472.5 289.5,473.3 293.5,473.3 297.5,469.6 301.5,464.8 305.5,456.8 309.5,439.2 313.5,429.6 317.5,426.9 321.5,425.9 325.5,426.9 329.5,432.8 333.5,449.6 337.5,461.6 341.5,467.2 345.5,467.2 349.5,471.2 353.5,473.6 357.5,474.4 361.5,475.2 365.5,475.2 369.5,473.6 373.5,472 377.5,467.2 381.5,459.2 385.5,453.6 389.5,451.2 393.5,459.2 397.5,464.3 401.5,461.6 405.5,451.2 409.5,434.4 413.5,428.5 417.5,428.8 421.5,431.7 425.5,436.5 429.5,439.2 433.5,450.4 437.5,455.2 441.5,468 445.5,474.4 449.5,471.2 453.5,456 457.5,437.6 461.5,422.4 465.5,418.4 469.5,425.6 473.5,435.2 477.5,451.2 481.5,460.8 485.5,468 489.5,469.6 493.5,474.1 497.5,472 501.5,469.6 505.5,466.4 509.5,466.4 513.5,461.6 517.5,454.4 521.5,436.5 525.5,432.3 529.5,446.4 533.5,460.5 537.5,451.2 541.5,441.6 545.5,435.5 549.5,446.1 553.5,448.3 557.5,452.8 561.5,460.8 565.5,472.8 569.5,474.4 573.5,473.3 577.5,471.2 581.5,468.8 585.5,464 589.5,456 593.5,448.8 597.5,447.2 601.5,460 605.5,463.2 609.5,464 613.5,459.2 617.5,456 621.5,441.6 625.5,432 629.5,426.4 633.5,432 637.5,424 641.5,424.8 645.5,425.3 649.5,425.3 653.5,434.4 657.5,442.4 661.5,460.8 665.5,470.1 669.5,462.4 673.5,444 677.5,428 681.5,419.5 685.5,420 689.5,421.1 693.5,420.5"/>
</g>
<g shape-rendering="crispEdges" fill="#000">
<rect x="0" y="0" width="706" height="1" fill="#000"/>
<rect x="0" y="0" width="1" height="410" fill="#000"/>
<rect x="0" y="409" width="706" height="1" fill="#000"/>
<rect x="705" y="0" width="1" height="410" fill="#000"/>
<rect x="0" y="411" width="706" height="1" fill="#000"/>
<rect x="0" y="411" width="1" height="67" fill="#000"/>
<rect x="0" y="477" width="706" height="1" fill="#000"/>
<rect x="705" y="411" width="1" height="67" fill="#000"/>
<rect x="706" y="43" width="2" height="1" fill="#000"/>
<rect x="706" y="76" width="2" height="1" fill="#000"/>
<rect x="706" y="109" width="2" height="1" fill="#000"/>
<rect x="706" y="142" width="2" height="1" fill="#000"/>
<rect x="706" y="175" width="2" height="1" fill="#000"/>
<rect x="706" y="208" width="2" height="1" fill="#000"/>
<rect x="706" y="241" width="2" height="1" fill="#000"/>
<rect x="706" y="274" width="2" height="1" fill="#000"/>
<rect x="706" y="307" width="2" height="1" fill="#000"/>
<rect x="706" y="340" width="2" height="1" fill="#000"/>
<rect x="706" y="373" width="2" height="1" fill="#000"/>
<rect x="706" y="406" width="2" height="1" fill="#000"/>
<rect x="706" y="425" width="2" height="1" fill="#000"/>
<rect x="706" y="445" width="2" height="1" fill="#000"/>
<rect x="706" y="464" width="2" height="1" fill="#000"/>
<rect x="1" y="478" width="1" height="3" fill="#000"/>
<rect x="65" y="478" width="1" height="3" fill="#000"/>
<rect x="129" y="478" width="1" height="3" fill="#000"/>
<rect x="193" y="478" width="1" height="3" fill="#000"/>
<rect x="257" y="478" width="1" height="3" fill="#000"/>
<rect x="321" y="478" width="1" height="3" fill="#000"/>
<rect x="385" y="478" width="1" height="3" fill="#000"/>
<rect x="449" y="478" width="1" height="3" fill="#000"/>
<rect x="513" y="478" width="1" height="3" fill="#000"/>
<rect x="577" y="478" width="1" height="3" fill="#000"/>
<rect x="641" y="478" width="1" height="3" fill="#000"/>
</g>
<text x="711.7" y="47" fill="#000" stroke="#000" stroke-width="0.16" font-size="10.3" text-anchor="start" textLength="32.2" lengthAdjust="spacingAndGlyphs">1.32975</text>
<text x="711.7" y="80" fill="#000" stroke="#000" stroke-width="0.16" font-size="10.3" text-anchor="start" textLength="32.2" lengthAdjust="spacingAndGlyphs">1.31715</text>
<text x="711.7" y="113" fill="#000" stroke="#000" stroke-width="0.16" font-size="10.3" text-anchor="start" textLength="32.2" lengthAdjust="spacingAndGlyphs">1.30490</text>
<text x="711.7" y="146" fill="#000" stroke="#000" stroke-width="0.16" font-size="10.3" text-anchor="start" textLength="32.2" lengthAdjust="spacingAndGlyphs">1.29230</text>
<text x="711.7" y="179" fill="#000" stroke="#000" stroke-width="0.16" font-size="10.3" text-anchor="start" textLength="32.2" lengthAdjust="spacingAndGlyphs">1.28005</text>
<text x="711.7" y="278" fill="#000" stroke="#000" stroke-width="0.16" font-size="10.3" text-anchor="start" textLength="32.2" lengthAdjust="spacingAndGlyphs">1.24295</text>
<text x="711.7" y="344" fill="#000" stroke="#000" stroke-width="0.16" font-size="10.3" text-anchor="start" textLength="32.2" lengthAdjust="spacingAndGlyphs">1.21810</text>
<text x="711.7" y="377" fill="#000" stroke="#000" stroke-width="0.16" font-size="10.3" text-anchor="start" textLength="32.2" lengthAdjust="spacingAndGlyphs">1.20550</text>
<text x="711.7" y="410" fill="#000" stroke="#000" stroke-width="0.16" font-size="10.3" text-anchor="start" textLength="32.2" lengthAdjust="spacingAndGlyphs">1.19325</text>
<rect x="707.3" y="4.4" width="40.6" height="10.6" fill="#a8a8a8"/>
<text x="711.6" y="12.9" fill="#fff" stroke="#fff" stroke-width="0.16" font-size="10.3" text-anchor="start" textLength="32" lengthAdjust="spacingAndGlyphs">1.34200</text>
<rect x="707.3" y="59.4" width="40.6" height="10.6" fill="#a8a8a8"/>
<text x="711.6" y="67.9" fill="#fff" stroke="#fff" stroke-width="0.16" font-size="10.3" text-anchor="start" textLength="32" lengthAdjust="spacingAndGlyphs">1.32100</text>
<rect x="707.3" y="204.4" width="40.6" height="10.6" fill="#a8a8a8"/>
<text x="711.6" y="212.9" fill="#fff" stroke="#fff" stroke-width="0.16" font-size="10.3" text-anchor="start" textLength="32" lengthAdjust="spacingAndGlyphs">1.26700</text>
<rect x="707.3" y="230.4" width="40.6" height="10.6" fill="#a8a8a8"/>
<text x="711.6" y="238.9" fill="#fff" stroke="#fff" stroke-width="0.16" font-size="10.3" text-anchor="start" textLength="32" lengthAdjust="spacingAndGlyphs">1.25700</text>
<rect x="707.3" y="241.4" width="40.6" height="10.6" fill="#a8a8a8"/>
<text x="711.6" y="249.9" fill="#fff" stroke="#fff" stroke-width="0.16" font-size="10.3" text-anchor="start" textLength="32" lengthAdjust="spacingAndGlyphs">1.25300</text>
<rect x="707.3" y="254.4" width="40.6" height="10.6" fill="#a8a8a8"/>
<text x="711.6" y="262.9" fill="#fff" stroke="#fff" stroke-width="0.16" font-size="10.3" text-anchor="start" textLength="32" lengthAdjust="spacingAndGlyphs">1.24800</text>
<rect x="707.3" y="297" width="41" height="1.2" fill="#000"/>
<rect x="707.3" y="286.4" width="40.6" height="10.6" fill="#a8a8a8"/>
<text x="711.6" y="294.9" fill="#fff" stroke="#fff" stroke-width="0.16" font-size="10.3" text-anchor="start" textLength="32" lengthAdjust="spacingAndGlyphs">1.23600</text>
<rect x="707.3" y="314.4" width="40.6" height="10.6" fill="#a8a8a8"/>
<text x="711.6" y="322.9" fill="#fff" stroke="#fff" stroke-width="0.16" font-size="10.3" text-anchor="start" textLength="32" lengthAdjust="spacingAndGlyphs">1.22550</text>
<rect x="707.3" y="302.4" width="40.6" height="10.6" fill="#a8a8a8"/>
<text x="711.6" y="310.9" fill="#fff" stroke="#fff" stroke-width="0.16" font-size="10.3" text-anchor="start" textLength="32" lengthAdjust="spacingAndGlyphs">1.23000</text>
<rect x="707.3" y="310.4" width="40.6" height="10.6" fill="#a8a8a8"/>
<text x="711.6" y="318.9" fill="#fff" stroke="#fff" stroke-width="0.16" font-size="10.3" text-anchor="start" textLength="32" lengthAdjust="spacingAndGlyphs">1.22700</text>
<rect x="707.3" y="382.4" width="40.6" height="10.6" fill="#a8a8a8"/>
<text x="711.6" y="390.9" fill="#fff" stroke="#fff" stroke-width="0.16" font-size="10.3" text-anchor="start" textLength="32" lengthAdjust="spacingAndGlyphs">1.20000</text>
<text x="708.7" y="421.7" fill="#000" stroke="#000" stroke-width="0.16" font-size="10.3" text-anchor="start" textLength="41.5" lengthAdjust="spacingAndGlyphs">0.0049007</text>
<text x="708" y="429.1" fill="#000" stroke="#000" stroke-width="0.16" font-size="10.3" text-anchor="start" textLength="10" lengthAdjust="spacingAndGlyphs">80</text>
<rect x="707" y="440" width="6.8" height="10.8" fill="#778899"/>
<text x="708" y="448.8" fill="#000" stroke="#000" stroke-width="0.16" font-size="10.3" text-anchor="start" textLength="17.5" lengthAdjust="spacingAndGlyphs">0.00</text>
<text x="708" y="467.6" fill="#000" stroke="#000" stroke-width="0.16" font-size="10.3" text-anchor="start" textLength="10" lengthAdjust="spacingAndGlyphs">20</text>
<text x="708.2" y="473.5" fill="#000" stroke="#000" stroke-width="0.16" font-size="10.3" text-anchor="start" textLength="41.8" lengthAdjust="spacingAndGlyphs">-0.004892</text>
<text x="1.3" y="490" fill="#000" stroke="#000" stroke-width="0.16" font-size="10.3" text-anchor="start" textLength="48.1" lengthAdjust="spacingAndGlyphs">16 Jan 2019</text>
<text x="64.6" y="490" fill="#000" stroke="#000" stroke-width="0.16" font-size="10.3" text-anchor="start" textLength="46.1" lengthAdjust="spacingAndGlyphs">7 Feb 2019</text>
<text x="128.7" y="490" fill="#000" stroke="#000" stroke-width="0.16" font-size="10.3" text-anchor="start" textLength="46.1" lengthAdjust="spacingAndGlyphs">1 Mar 2019</text>
<text x="193" y="490" fill="#000" stroke="#000" stroke-width="0.16" font-size="10.3" text-anchor="start" textLength="50.7" lengthAdjust="spacingAndGlyphs">21 Mar 2019</text>
<text x="256.4" y="490" fill="#000" stroke="#000" stroke-width="0.16" font-size="10.3" text-anchor="start" textLength="50.1" lengthAdjust="spacingAndGlyphs">11 Apr 2019</text>
<text x="320.7" y="490" fill="#000" stroke="#000" stroke-width="0.16" font-size="10.3" text-anchor="start" textLength="48.7" lengthAdjust="spacingAndGlyphs">3 May 2019</text>
<text x="384.4" y="490" fill="#000" stroke="#000" stroke-width="0.16" font-size="10.3" text-anchor="start" textLength="54.4" lengthAdjust="spacingAndGlyphs">27 May 2019</text>
<text x="448.5" y="490" fill="#000" stroke="#000" stroke-width="0.16" font-size="10.3" text-anchor="start" textLength="49.4" lengthAdjust="spacingAndGlyphs">18 Jun 2019</text>
<text x="512.6" y="490" fill="#000" stroke="#000" stroke-width="0.16" font-size="10.3" text-anchor="start" textLength="46.1" lengthAdjust="spacingAndGlyphs">10 Jul 2019</text>
<text x="576.5" y="490" fill="#000" stroke="#000" stroke-width="0.16" font-size="10.3" text-anchor="start" textLength="47.3" lengthAdjust="spacingAndGlyphs">1 Aug 2019</text>
<text x="640.6" y="490" fill="#000" stroke="#000" stroke-width="0.16" font-size="10.3" text-anchor="start" textLength="52.2" lengthAdjust="spacingAndGlyphs">23 Aug 2019</text>
</svg></body></html>
